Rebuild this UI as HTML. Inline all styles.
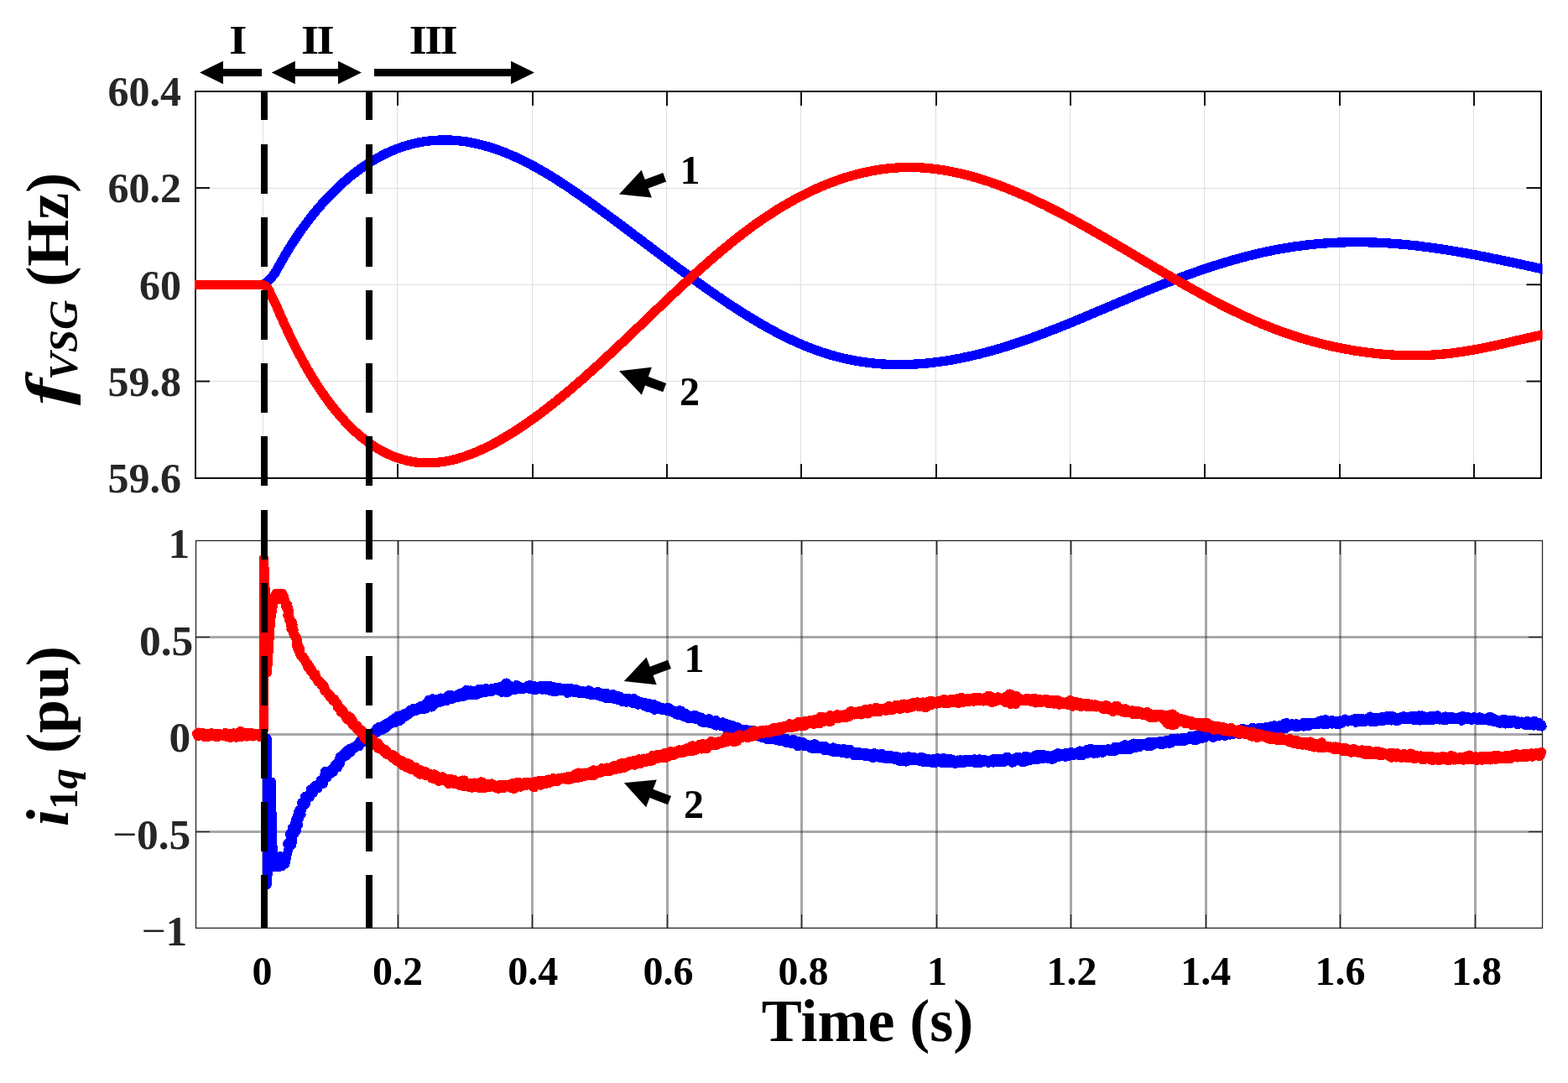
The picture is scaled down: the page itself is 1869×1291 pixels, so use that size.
<!DOCTYPE html>
<html lang="en"><head><meta charset="utf-8"><title>VSG frequency and current response</title>
<style>html,body{margin:0;padding:0;background:#fff;overflow:hidden}svg{display:block}</style></head>
<body>
<svg width="1869" height="1291" viewBox="0 0 1869 1291">
<rect x="0" y="0" width="1869" height="1291" fill="#ffffff" />
<defs><clipPath id="c1"><rect x="232" y="108" width="1606.6" height="463"/></clipPath></defs>
<g shape-rendering="crispEdges">
<rect x="313" y="110" width="1" height="459" fill="#dedede" />
<rect x="473" y="110" width="1" height="459" fill="#dedede" />
<rect x="634" y="110" width="1" height="459" fill="#dedede" />
<rect x="794" y="110" width="1" height="459" fill="#dedede" />
<rect x="954" y="110" width="1" height="459" fill="#dedede" />
<rect x="1115" y="110" width="1" height="459" fill="#dedede" />
<rect x="1275" y="110" width="1" height="459" fill="#dedede" />
<rect x="1435" y="110" width="1" height="459" fill="#dedede" />
<rect x="1596" y="110" width="1" height="459" fill="#dedede" />
<rect x="1756" y="110" width="1" height="459" fill="#dedede" />
<rect x="234" y="224" width="1602" height="1" fill="#dedede" />
<rect x="234" y="339" width="1602" height="1" fill="#dedede" />
<rect x="234" y="454" width="1602" height="1" fill="#dedede" />
</g>
<g shape-rendering="crispEdges">
<rect x="232" y="108" width="1606" height="2" fill="#0f0f0f" />
<rect x="232" y="569" width="1606" height="2" fill="#0f0f0f" />
<rect x="232" y="108" width="2" height="463" fill="#0f0f0f" />
<rect x="1836" y="108" width="2" height="463" fill="#0f0f0f" />
<rect x="313" y="110" width="2" height="16" fill="#0f0f0f" />
<rect x="313" y="553" width="2" height="16" fill="#0f0f0f" />
<rect x="473" y="110" width="2" height="16" fill="#0f0f0f" />
<rect x="473" y="553" width="2" height="16" fill="#0f0f0f" />
<rect x="634" y="110" width="2" height="16" fill="#0f0f0f" />
<rect x="634" y="553" width="2" height="16" fill="#0f0f0f" />
<rect x="794" y="110" width="2" height="16" fill="#0f0f0f" />
<rect x="794" y="553" width="2" height="16" fill="#0f0f0f" />
<rect x="954" y="110" width="2" height="16" fill="#0f0f0f" />
<rect x="954" y="553" width="2" height="16" fill="#0f0f0f" />
<rect x="1115" y="110" width="2" height="16" fill="#0f0f0f" />
<rect x="1115" y="553" width="2" height="16" fill="#0f0f0f" />
<rect x="1275" y="110" width="2" height="16" fill="#0f0f0f" />
<rect x="1275" y="553" width="2" height="16" fill="#0f0f0f" />
<rect x="1435" y="110" width="2" height="16" fill="#0f0f0f" />
<rect x="1435" y="553" width="2" height="16" fill="#0f0f0f" />
<rect x="1596" y="110" width="2" height="16" fill="#0f0f0f" />
<rect x="1596" y="553" width="2" height="16" fill="#0f0f0f" />
<rect x="1756" y="110" width="2" height="16" fill="#0f0f0f" />
<rect x="1756" y="553" width="2" height="16" fill="#0f0f0f" />
</g>
<rect x="234" y="223.05" width="16" height="2" fill="#0f0f0f" />
<rect x="1819.5" y="223.05" width="16.5" height="2" fill="#0f0f0f" />
<rect x="234" y="338.3" width="16" height="2" fill="#0f0f0f" />
<rect x="1819.5" y="338.3" width="16.5" height="2" fill="#0f0f0f" />
<rect x="234" y="453.55" width="16" height="2" fill="#0f0f0f" />
<rect x="1819.5" y="453.55" width="16.5" height="2" fill="#0f0f0f" />
<g clip-path="url(#c1)" fill="none" stroke-linejoin="round" shape-rendering="crispEdges">
<path d="M313.5,339.5 L318.0,336.5 L322.0,332.5 L327.1,326.6 L334.1,314.3 L337.9,307.6 L341.6,301.2 L345.4,295.0 L349.2,289.0 L353.0,283.3 L356.7,277.7 L360.5,272.3 L364.3,267.2 L368.1,262.2 L371.8,257.4 L375.6,252.7 L379.4,248.2 L383.2,243.8 L386.9,239.6 L390.7,235.5 L394.5,231.6 L398.3,227.8 L402.0,224.1 L405.8,220.6 L409.6,217.2 L413.4,213.9 L417.1,210.7 L420.9,207.7 L424.7,204.8 L428.5,202.0 L432.2,199.3 L436.0,196.7 L439.8,194.3 L443.6,191.9 L447.3,189.7 L451.1,187.6 L454.9,185.6 L458.6,183.7 L462.4,181.9 L466.2,180.2 L470.0,178.6 L473.7,177.1 L477.5,175.8 L481.3,174.5 L485.1,173.4 L488.8,172.3 L492.6,171.3 L496.4,170.5 L500.2,169.7 L503.9,169.0 L507.7,168.4 L511.5,168.0 L515.3,167.6 L519.0,167.3 L522.8,167.1 L526.6,167.0 L530.4,166.9 L534.1,167.0 L537.9,167.1 L541.7,167.4 L545.5,167.7 L549.2,168.1 L553.0,168.6 L556.8,169.1 L560.6,169.8 L564.3,170.5 L568.1,171.3 L571.9,172.2 L575.6,173.2 L579.4,174.2 L583.2,175.3 L587.0,176.5 L590.7,177.8 L594.5,179.1 L598.3,180.5 L602.1,181.9 L605.8,183.5 L609.6,185.1 L613.4,186.7 L617.2,188.5 L620.9,190.3 L624.7,192.1 L628.5,194.0 L632.3,196.0 L636.0,198.0 L639.8,200.1 L643.6,202.2 L647.4,204.4 L651.1,206.6 L654.9,208.9 L658.7,211.2 L662.5,213.6 L666.2,216.0 L670.0,218.4 L673.8,220.9 L677.6,223.4 L681.3,225.9 L685.1,228.5 L688.9,231.1 L692.6,233.7 L696.4,236.4 L700.2,239.0 L704.0,241.7 L707.7,244.4 L711.5,247.2 L715.3,249.9 L719.1,252.7 L722.8,255.4 L726.6,258.2 L730.4,261.0 L734.2,263.8 L737.9,266.6 L741.7,269.4 L745.5,272.3 L749.3,275.1 L753.0,277.9 L756.8,280.8 L760.6,283.6 L764.4,286.4 L768.1,289.3 L771.9,292.1 L775.7,295.0 L779.5,297.8 L783.2,300.7 L787.0,303.5 L790.8,306.3 L794.6,309.2 L798.3,312.0 L802.1,314.8 L805.9,317.6 L809.6,320.4 L813.4,323.2 L817.2,326.0 L821.0,328.7 L824.7,331.5 L828.5,334.2 L832.3,336.9 L836.1,339.6 L839.8,342.3 L843.6,345.0 L847.4,347.6 L851.2,350.3 L854.9,352.9 L858.7,355.4 L862.5,358.0 L866.3,360.5 L870.0,363.1 L873.8,365.5 L877.6,368.0 L881.4,370.4 L885.1,372.8 L888.9,375.2 L892.7,377.5 L896.5,379.8 L900.2,382.1 L904.0,384.3 L907.8,386.5 L911.6,388.6 L915.3,390.8 L919.1,392.8 L922.9,394.9 L926.6,396.9 L930.4,398.8 L934.2,400.7 L938.0,402.6 L941.7,404.4 L945.5,406.2 L949.3,407.9 L953.1,409.6 L956.8,411.2 L960.6,412.7 L964.4,414.3 L968.2,415.7 L971.9,417.1 L975.7,418.5 L979.5,419.8 L983.3,421.0 L987.0,422.2 L990.8,423.3 L994.6,424.4 L998.4,425.4 L1002.1,426.3 L1005.9,427.2 L1009.7,428.0 L1013.5,428.8 L1017.2,429.6 L1021.0,430.3 L1024.8,430.9 L1028.6,431.5 L1032.3,432.0 L1036.1,432.5 L1039.9,432.9 L1043.6,433.3 L1047.4,433.6 L1051.2,433.9 L1055.0,434.1 L1058.7,434.3 L1062.5,434.4 L1066.3,434.5 L1070.1,434.6 L1073.8,434.6 L1077.6,434.5 L1081.4,434.5 L1085.2,434.3 L1088.9,434.2 L1092.7,433.9 L1096.5,433.7 L1100.3,433.4 L1104.0,433.1 L1107.8,432.7 L1111.6,432.3 L1115.4,431.8 L1119.1,431.3 L1122.9,430.8 L1126.7,430.3 L1130.5,429.7 L1134.2,429.0 L1138.0,428.3 L1141.8,427.6 L1145.5,426.9 L1149.3,426.1 L1153.1,425.3 L1156.9,424.5 L1160.6,423.6 L1164.4,422.7 L1168.2,421.8 L1172.0,420.8 L1175.7,419.8 L1179.5,418.8 L1183.3,417.8 L1187.1,416.7 L1190.8,415.6 L1194.6,414.5 L1198.4,413.3 L1202.2,412.1 L1205.9,410.9 L1209.7,409.7 L1213.5,408.4 L1217.3,407.1 L1221.0,405.8 L1224.8,404.5 L1228.6,403.2 L1232.4,401.8 L1236.1,400.4 L1239.9,399.0 L1243.7,397.6 L1247.5,396.2 L1251.2,394.7 L1255.0,393.2 L1258.8,391.8 L1262.5,390.3 L1266.3,388.8 L1270.1,387.2 L1273.9,385.7 L1277.6,384.2 L1281.4,382.6 L1285.2,381.0 L1289.0,379.5 L1292.7,377.9 L1296.5,376.3 L1300.3,374.7 L1304.1,373.1 L1307.8,371.5 L1311.6,369.9 L1315.4,368.3 L1319.2,366.7 L1322.9,365.1 L1326.7,363.5 L1330.5,361.9 L1334.3,360.3 L1338.0,358.7 L1341.8,357.1 L1345.6,355.5 L1349.4,353.9 L1353.1,352.3 L1356.9,350.8 L1360.7,349.2 L1364.5,347.6 L1368.2,346.1 L1372.0,344.6 L1375.8,343.0 L1379.5,341.5 L1383.3,340.0 L1387.1,338.5 L1390.9,337.0 L1394.6,335.6 L1398.4,334.1 L1402.2,332.7 L1406.0,331.3 L1409.7,329.9 L1413.5,328.5 L1417.3,327.1 L1421.1,325.8 L1424.8,324.4 L1428.6,323.1 L1432.4,321.8 L1436.2,320.5 L1439.9,319.3 L1443.7,318.0 L1447.5,316.8 L1451.3,315.6 L1455.0,314.4 L1458.8,313.3 L1462.6,312.1 L1466.4,311.0 L1470.1,309.9 L1473.9,308.9 L1477.7,307.8 L1481.5,306.8 L1485.2,305.8 L1489.0,304.8 L1492.8,303.9 L1496.5,303.0 L1500.3,302.1 L1504.1,301.2 L1507.9,300.4 L1511.6,299.6 L1515.4,298.8 L1519.2,298.0 L1523.0,297.3 L1526.7,296.6 L1530.5,296.0 L1534.3,295.3 L1538.1,294.7 L1541.8,294.1 L1545.6,293.6 L1549.4,293.1 L1553.2,292.6 L1556.9,292.1 L1560.7,291.7 L1564.5,291.3 L1568.3,290.9 L1572.0,290.6 L1575.8,290.3 L1579.6,290.0 L1583.4,289.7 L1587.1,289.5 L1590.9,289.3 L1594.7,289.1 L1598.5,289.0 L1602.2,288.9 L1606.0,288.8 L1609.8,288.7 L1613.5,288.7 L1617.3,288.6 L1621.1,288.7 L1624.9,288.7 L1628.6,288.8 L1632.4,288.9 L1636.2,289.0 L1640.0,289.1 L1643.7,289.3 L1647.5,289.5 L1651.3,289.7 L1655.1,289.9 L1658.8,290.2 L1662.6,290.5 L1666.4,290.8 L1670.2,291.1 L1673.9,291.4 L1677.7,291.8 L1681.5,292.2 L1685.3,292.6 L1689.0,293.0 L1692.8,293.5 L1696.6,294.0 L1700.4,294.5 L1704.1,295.0 L1707.9,295.5 L1711.7,296.0 L1715.5,296.6 L1719.2,297.1 L1723.0,297.7 L1726.8,298.3 L1730.5,298.9 L1734.3,299.6 L1738.1,300.2 L1741.9,300.9 L1745.6,301.5 L1749.4,302.2 L1753.2,302.9 L1757.0,303.6 L1760.7,304.3 L1764.5,305.1 L1768.3,305.8 L1772.1,306.5 L1775.8,307.3 L1779.6,308.1 L1783.4,308.8 L1787.2,309.6 L1790.9,310.4 L1794.7,311.2 L1798.5,312.0 L1802.3,312.8 L1806.0,313.6 L1809.8,314.4 L1813.6,315.3 L1817.4,316.1 L1821.1,316.9 L1824.9,317.7 L1828.7,318.6 L1832.5,319.4 L1836.2,320.2 L1840.0,321.1" stroke="#0000ff" stroke-width="11.3"/>
<path d="M230.0,339.5 L313.5,339.5 L317.0,341.0 L320.5,346.0 L323.6,352.5 L329.8,365.4 L333.6,374.3 L337.4,382.8 L341.2,391.1 L344.9,399.1 L348.7,406.9 L352.5,414.5 L356.3,421.7 L360.1,428.8 L363.9,435.6 L367.6,442.2 L371.4,448.5 L375.2,454.6 L379.0,460.5 L382.8,466.2 L386.6,471.7 L390.4,476.9 L394.1,482.0 L397.9,486.8 L401.7,491.5 L405.5,495.9 L409.3,500.2 L413.1,504.3 L416.9,508.1 L420.6,511.8 L424.4,515.4 L428.2,518.7 L432.0,521.9 L435.8,524.9 L439.6,527.7 L443.3,530.4 L447.1,532.8 L450.9,535.2 L454.7,537.3 L458.5,539.3 L462.3,541.2 L466.1,542.9 L469.8,544.4 L473.6,545.8 L477.4,547.0 L481.2,548.1 L485.0,549.1 L488.8,549.9 L492.6,550.5 L496.3,551.1 L500.1,551.4 L503.9,551.7 L507.7,551.8 L511.5,551.8 L515.3,551.7 L519.0,551.5 L522.8,551.1 L526.6,550.7 L530.4,550.1 L534.2,549.4 L538.0,548.6 L541.8,547.7 L545.5,546.7 L549.3,545.5 L553.1,544.3 L556.9,543.0 L560.7,541.6 L564.5,540.2 L568.3,538.6 L572.0,536.9 L575.8,535.2 L579.6,533.4 L583.4,531.5 L587.2,529.5 L591.0,527.5 L594.7,525.4 L598.5,523.3 L602.3,521.0 L606.1,518.7 L609.9,516.4 L613.7,514.0 L617.5,511.6 L621.2,509.0 L625.0,506.5 L628.8,503.9 L632.6,501.2 L636.4,498.5 L640.2,495.8 L644.0,493.0 L647.7,490.1 L651.5,487.2 L655.3,484.3 L659.1,481.3 L662.9,478.3 L666.7,475.2 L670.4,472.1 L674.2,469.0 L678.0,465.8 L681.8,462.6 L685.6,459.4 L689.4,456.1 L693.2,452.8 L696.9,449.5 L700.7,446.1 L704.5,442.7 L708.3,439.3 L712.1,435.9 L715.9,432.4 L719.7,428.9 L723.4,425.4 L727.2,421.9 L731.0,418.4 L734.8,414.8 L738.6,411.2 L742.4,407.7 L746.1,404.1 L749.9,400.5 L753.7,396.9 L757.5,393.3 L761.3,389.7 L765.1,386.0 L768.9,382.4 L772.6,378.8 L776.4,375.2 L780.2,371.6 L784.0,368.0 L787.8,364.4 L791.6,360.8 L795.4,357.2 L799.1,353.6 L802.9,350.1 L806.7,346.5 L810.5,343.0 L814.3,339.5 L818.1,336.0 L821.8,332.5 L825.6,329.0 L829.4,325.6 L833.2,322.2 L837.0,318.8 L840.8,315.4 L844.6,312.1 L848.3,308.8 L852.1,305.6 L855.9,302.3 L859.7,299.1 L863.5,296.0 L867.3,292.9 L871.0,289.8 L874.8,286.7 L878.6,283.7 L882.4,280.8 L886.2,277.9 L890.0,275.0 L893.8,272.2 L897.5,269.4 L901.3,266.7 L905.1,264.1 L908.9,261.4 L912.7,258.9 L916.5,256.4 L920.3,253.9 L924.0,251.5 L927.8,249.1 L931.6,246.8 L935.4,244.6 L939.2,242.4 L943.0,240.2 L946.7,238.1 L950.5,236.1 L954.3,234.1 L958.1,232.1 L961.9,230.2 L965.7,228.4 L969.5,226.6 L973.2,224.9 L977.0,223.2 L980.8,221.6 L984.6,220.0 L988.4,218.5 L992.2,217.1 L996.0,215.7 L999.7,214.4 L1003.5,213.1 L1007.3,211.8 L1011.1,210.7 L1014.9,209.6 L1018.7,208.5 L1022.4,207.5 L1026.2,206.6 L1030.0,205.7 L1033.8,204.9 L1037.6,204.1 L1041.4,203.4 L1045.2,202.7 L1048.9,202.1 L1052.7,201.6 L1056.5,201.1 L1060.3,200.7 L1064.1,200.4 L1067.9,200.1 L1071.7,199.8 L1075.4,199.7 L1079.2,199.6 L1083.0,199.5 L1086.8,199.5 L1090.6,199.6 L1094.4,199.7 L1098.1,199.9 L1101.9,200.2 L1105.7,200.5 L1109.5,200.9 L1113.3,201.3 L1117.1,201.8 L1120.9,202.3 L1124.6,202.9 L1128.4,203.5 L1132.2,204.2 L1136.0,205.0 L1139.8,205.8 L1143.6,206.6 L1147.4,207.5 L1151.1,208.4 L1154.9,209.4 L1158.7,210.4 L1162.5,211.5 L1166.3,212.6 L1170.1,213.8 L1173.8,215.0 L1177.6,216.2 L1181.4,217.5 L1185.2,218.9 L1189.0,220.2 L1192.8,221.6 L1196.6,223.1 L1200.3,224.5 L1204.1,226.1 L1207.9,227.6 L1211.7,229.2 L1215.5,230.8 L1219.3,232.5 L1223.1,234.1 L1226.8,235.8 L1230.6,237.6 L1234.4,239.4 L1238.2,241.2 L1242.0,243.0 L1245.8,244.8 L1249.5,246.7 L1253.3,248.6 L1257.1,250.5 L1260.9,252.5 L1264.7,254.4 L1268.5,256.4 L1272.3,258.5 L1276.0,260.5 L1279.8,262.5 L1283.6,264.6 L1287.4,266.7 L1291.2,268.8 L1295.0,270.9 L1298.8,273.0 L1302.5,275.2 L1306.3,277.4 L1310.1,279.5 L1313.9,281.7 L1317.7,283.9 L1321.5,286.1 L1325.2,288.3 L1329.0,290.5 L1332.8,292.8 L1336.6,295.0 L1340.4,297.2 L1344.2,299.5 L1348.0,301.7 L1351.7,304.0 L1355.5,306.2 L1359.3,308.5 L1363.1,310.7 L1366.9,313.0 L1370.7,315.2 L1374.4,317.5 L1378.2,319.7 L1382.0,321.9 L1385.8,324.2 L1389.6,326.4 L1393.4,328.6 L1397.2,330.8 L1400.9,333.0 L1404.7,335.2 L1408.5,337.4 L1412.3,339.6 L1416.1,341.7 L1419.9,343.9 L1423.7,346.0 L1427.4,348.1 L1431.2,350.2 L1435.0,352.3 L1438.8,354.3 L1442.6,356.4 L1446.4,358.4 L1450.1,360.4 L1453.9,362.4 L1457.7,364.3 L1461.5,366.3 L1465.3,368.2 L1469.1,370.1 L1472.9,371.9 L1476.6,373.7 L1480.4,375.5 L1484.2,377.3 L1488.0,379.0 L1491.8,380.8 L1495.6,382.4 L1499.4,384.1 L1503.1,385.7 L1506.9,387.3 L1510.7,388.8 L1514.5,390.3 L1518.3,391.8 L1522.1,393.2 L1525.8,394.6 L1529.6,396.0 L1533.4,397.3 L1537.2,398.6 L1541.0,399.9 L1544.8,401.1 L1548.6,402.3 L1552.3,403.5 L1556.1,404.6 L1559.9,405.7 L1563.7,406.8 L1567.5,407.8 L1571.3,408.8 L1575.1,409.8 L1578.8,410.7 L1582.6,411.6 L1586.4,412.5 L1590.2,413.3 L1594.0,414.1 L1597.8,414.9 L1601.5,415.6 L1605.3,416.3 L1609.1,417.0 L1612.9,417.7 L1616.7,418.3 L1620.5,418.9 L1624.3,419.4 L1628.0,419.9 L1631.8,420.4 L1635.6,420.9 L1639.4,421.3 L1643.2,421.7 L1647.0,422.1 L1650.8,422.4 L1654.5,422.7 L1658.3,422.9 L1662.1,423.2 L1665.9,423.3 L1669.7,423.5 L1673.5,423.6 L1677.2,423.7 L1681.0,423.8 L1684.8,423.8 L1688.6,423.7 L1692.4,423.7 L1696.2,423.6 L1700.0,423.5 L1703.7,423.3 L1707.5,423.1 L1711.3,422.8 L1715.1,422.5 L1718.9,422.2 L1722.7,421.9 L1726.5,421.5 L1730.2,421.0 L1734.0,420.6 L1737.8,420.0 L1741.6,419.5 L1745.4,418.9 L1749.2,418.3 L1752.9,417.6 L1756.7,417.0 L1760.5,416.3 L1764.3,415.5 L1768.1,414.8 L1771.9,414.0 L1775.7,413.2 L1779.4,412.4 L1783.2,411.6 L1787.0,410.8 L1790.8,409.9 L1794.6,409.1 L1798.4,408.2 L1802.2,407.3 L1805.9,406.4 L1809.7,405.6 L1813.5,404.7 L1817.3,403.8 L1821.1,402.9 L1824.9,402.1 L1828.6,401.2 L1832.4,400.4 L1836.2,399.5 L1840.0,398.7" stroke="#ff0000" stroke-width="11.3"/>
</g>
<g shape-rendering="crispEdges" fill="#262626" fill-opacity="0.4">
<rect x="312" y="645" width="3" height="461"/>
<rect x="473" y="645" width="3" height="461"/>
<rect x="633" y="645" width="3" height="461"/>
<rect x="794" y="645" width="3" height="461"/>
<rect x="954" y="645" width="3" height="461"/>
<rect x="1115" y="645" width="3" height="461"/>
<rect x="1275" y="645" width="3" height="461"/>
<rect x="1436" y="645" width="3" height="461"/>
<rect x="1596" y="645" width="3" height="461"/>
<rect x="1757" y="645" width="3" height="461"/>
<rect x="234" y="758" width="1604" height="3"/>
<rect x="234" y="874" width="1604" height="3"/>
<rect x="234" y="990" width="1604" height="3"/>
</g>
<rect x="233.5" y="644.5" width="1605" height="461.8" fill="none" stroke="#262626" stroke-width="1.3"/>
<g stroke="#262626" stroke-width="1.2">
<line x1="313.5" y1="645" x2="313.5" y2="661"/>
<line x1="313.5" y1="1106" x2="313.5" y2="1090"/>
<line x1="474.5" y1="645" x2="474.5" y2="661"/>
<line x1="474.5" y1="1106" x2="474.5" y2="1090"/>
<line x1="634.5" y1="645" x2="634.5" y2="661"/>
<line x1="634.5" y1="1106" x2="634.5" y2="1090"/>
<line x1="795.5" y1="645" x2="795.5" y2="661"/>
<line x1="795.5" y1="1106" x2="795.5" y2="1090"/>
<line x1="955.5" y1="645" x2="955.5" y2="661"/>
<line x1="955.5" y1="1106" x2="955.5" y2="1090"/>
<line x1="1116.5" y1="645" x2="1116.5" y2="661"/>
<line x1="1116.5" y1="1106" x2="1116.5" y2="1090"/>
<line x1="1276.5" y1="645" x2="1276.5" y2="661"/>
<line x1="1276.5" y1="1106" x2="1276.5" y2="1090"/>
<line x1="1437.5" y1="645" x2="1437.5" y2="661"/>
<line x1="1437.5" y1="1106" x2="1437.5" y2="1090"/>
<line x1="1597.5" y1="645" x2="1597.5" y2="661"/>
<line x1="1597.5" y1="1106" x2="1597.5" y2="1090"/>
<line x1="1758.5" y1="645" x2="1758.5" y2="661"/>
<line x1="1758.5" y1="1106" x2="1758.5" y2="1090"/>
<line x1="234" y1="759.5" x2="250" y2="759.5"/>
<line x1="1838" y1="759.5" x2="1822" y2="759.5"/>
<line x1="234" y1="875.5" x2="250" y2="875.5"/>
<line x1="1838" y1="875.5" x2="1822" y2="875.5"/>
<line x1="234" y1="991.5" x2="250" y2="991.5"/>
<line x1="1838" y1="991.5" x2="1822" y2="991.5"/>
</g>
<path d="M318.2,880.0 L318.2,1055.0 L320.0,1030.0 L323.5,932.0 L324.5,1000.0 L326.0,1023.0 L328.0,1034.0 L330.0,1021.0 L332.0,1034.0 L334.0,1020.5 L336.0,1033.0 L338.0,1021.0 L340.0,1030.0 L342.0,1019.0 L344.5,1010.0 L345.6,1005.7 L347.9,1006.9 L342.4,1005.9 L348.8,1003.3 L346.1,1002.2 L345.0,1004.0 L345.3,1005.2 L345.1,1002.9 L346.9,1001.8 L349.0,1002.1 L348.9,994.0 L349.3,994.1 L345.5,995.0 L346.0,992.9 L351.8,992.4 L351.0,993.8 L353.5,989.9 L352.1,990.8 L348.4,986.3 L352.8,987.7 L351.9,991.8 L351.5,986.7 L349.9,987.7 L351.7,987.6 L351.7,984.0 L353.8,985.4 L352.8,983.6 L355.6,983.7 L351.8,979.8 L354.3,977.1 L354.6,977.1 L352.5,977.1 L352.2,978.6 L356.4,976.0 L355.8,974.6 L355.0,974.1 L356.3,976.0 L354.8,971.4 L356.8,975.1 L355.7,968.1 L357.4,968.6 L359.2,970.8 L357.3,969.2 L359.7,965.2 L356.8,965.9 L358.5,963.7 L356.9,966.2 L359.5,964.6 L360.2,960.9 L360.1,962.4 L360.3,959.8 L363.5,959.5 L364.1,958.9 L359.8,956.6 L364.4,957.8 L359.8,957.1 L362.1,956.2 L363.7,956.8 L364.7,953.0 L363.3,949.5 L364.4,950.9 L366.4,951.6 L365.7,950.4 L366.3,950.8 L369.2,950.5 L370.3,947.6 L369.1,946.8 L369.8,944.1 L370.3,947.7 L370.1,944.1 L370.6,941.5 L370.4,940.7 L374.1,941.5 L373.5,945.1 L374.1,942.7 L375.4,936.6 L376.7,939.3 L379.0,939.5 L376.7,939.6 L377.2,938.2 L378.9,935.4 L377.8,937.0 L382.3,934.1 L382.4,929.7 L382.7,932.4 L381.9,931.7 L384.2,934.6 L385.4,934.2 L385.1,928.8 L384.5,930.8 L382.7,929.9 L388.0,925.8 L386.5,923.8 L386.3,927.4 L390.1,927.2 L389.8,924.8 L387.4,919.5 L390.4,924.7 L390.8,922.7 L393.8,921.4 L389.4,921.9 L392.7,919.4 L393.9,922.4 L397.3,920.4 L393.5,918.4 L390.9,919.5 L394.3,918.0 L397.8,914.0 L399.4,916.3 L401.7,914.8 L400.0,911.2 L398.5,912.9 L402.1,914.5 L401.2,911.4 L401.5,915.1 L402.5,915.0 L405.4,909.8 L402.2,910.9 L405.2,902.1 L406.2,906.8 L407.2,900.7 L408.2,903.8 L409.2,898.6 L410.2,901.3 L411.2,896.7 L412.2,901.5 L413.2,895.4 L414.2,899.5 L415.2,893.4 L416.2,897.8 L417.2,892.2 L418.2,896.8 L419.2,891.6 L420.2,894.1 L421.2,890.4 L422.2,892.5 L423.2,889.4 L424.2,890.5 L425.2,887.9 L426.2,890.0 L427.2,886.0 L428.2,889.9 L429.2,883.0 L430.2,886.1 L431.2,881.8 L432.2,884.3 L433.2,879.7 L434.2,884.2 L435.2,878.0 L436.2,882.9 L437.2,877.2 L438.2,882.4 L439.2,875.9 L440.2,880.1 L441.2,874.4 L442.2,876.3 L443.2,874.7 L444.2,875.0 L445.2,873.3 L446.2,875.3 L447.2,870.6 L448.2,874.1 L449.2,868.2 L450.2,872.2 L451.2,866.7 L452.2,871.4 L453.2,866.4 L454.2,870.9 L455.2,865.6 L456.2,869.8 L457.2,864.9 L458.2,868.9 L459.2,863.1 L460.2,867.9 L461.2,861.8 L462.2,865.6 L463.2,860.9 L464.2,863.4 L465.2,859.5 L466.2,862.4 L467.2,858.2 L468.2,862.1 L469.2,856.6 L470.2,861.9 L471.2,855.4 L472.2,860.8 L473.2,853.5 L474.2,859.3 L475.2,853.6 L476.2,859.9 L477.2,852.8 L478.2,858.4 L479.2,852.3 L480.2,855.8 L481.2,850.9 L482.2,854.1 L483.2,850.0 L484.2,854.1 L485.2,850.4 L486.2,852.4 L487.2,847.6 L488.2,850.7 L489.2,846.1 L490.2,849.1 L491.2,846.6 L492.2,848.2 L493.2,844.0 L494.2,847.4 L495.2,844.3 L496.2,847.5 L497.2,843.8 L498.2,846.5 L499.2,843.1 L500.2,845.8 L501.2,841.7 L502.2,845.8 L503.2,841.9 L504.2,845.0 L505.2,840.6 L506.2,845.2 L507.2,839.3 L508.2,844.6 L509.2,837.1 L510.2,843.4 L511.2,834.2 L512.2,842.3 L513.2,836.4 L514.2,843.1 L515.2,832.8 L516.2,841.6 L517.2,833.1 L518.2,839.6 L519.2,834.8 L520.2,837.7 L521.2,834.6 L522.2,837.0 L523.2,833.0 L524.2,837.4 L525.2,832.0 L526.2,836.7 L527.2,832.4 L528.2,835.9 L529.2,833.6 L530.2,835.9 L531.2,831.9 L532.2,836.0 L533.2,829.9 L534.2,834.0 L535.2,828.3 L536.2,833.1 L537.2,828.4 L538.2,833.2 L539.2,829.7 L540.2,833.1 L541.2,829.7 L542.2,832.1 L543.2,828.8 L544.2,831.6 L545.2,827.8 L546.2,831.6 L547.2,828.2 L548.2,829.0 L549.2,826.0 L550.2,828.9 L551.2,825.5 L552.2,830.4 L553.2,825.1 L554.2,829.4 L555.2,822.6 L556.2,829.2 L557.2,822.7 L558.2,828.8 L559.2,823.7 L560.2,827.8 L561.2,822.9 L562.2,828.3 L563.2,823.1 L564.2,828.2 L565.2,824.1 L566.2,828.2 L567.2,823.5 L568.2,828.2 L569.2,822.3 L570.2,827.5 L571.2,821.2 L572.2,827.0 L573.2,821.3 L574.2,825.6 L575.2,821.8 L576.2,824.8 L577.2,821.4 L578.2,825.5 L579.2,820.7 L580.2,825.1 L581.2,820.9 L582.2,825.0 L583.2,821.0 L584.2,824.3 L585.2,820.9 L586.2,824.2 L587.2,820.4 L588.2,823.5 L589.2,820.7 L590.2,822.8 L591.2,819.4 L592.2,822.2 L593.2,819.9 L594.2,823.3 L595.2,819.4 L596.2,823.6 L597.2,818.0 L598.2,825.5 L599.2,817.5 L600.2,822.7 L601.2,816.0 L602.2,824.2 L603.2,813.9 L604.2,826.0 L605.2,815.1 L606.2,824.8 L607.2,816.8 L608.2,823.2 L609.2,817.8 L610.2,822.1 L611.2,818.3 L612.2,822.5 L613.2,818.3 L614.2,822.2 L615.2,816.5 L616.2,820.9 L617.2,817.2 L618.2,821.6 L619.2,817.9 L620.2,821.5 L621.2,818.9 L622.2,820.1 L623.2,819.3 L624.2,821.3 L625.2,819.5 L626.2,820.6 L627.2,819.5 L628.2,820.5 L629.2,817.2 L630.2,821.2 L631.2,816.4 L632.2,821.0 L633.2,818.3 L634.2,821.5 L635.2,818.5 L636.2,822.7 L637.2,817.7 L638.2,822.7 L639.2,818.1 L640.2,821.9 L641.2,819.3 L642.2,820.8 L643.2,818.5 L644.2,820.7 L645.2,817.0 L646.2,822.2 L647.2,817.1 L648.2,821.9 L649.2,817.1 L650.2,822.2 L651.2,817.4 L652.2,822.2 L653.2,817.1 L654.2,822.9 L655.2,817.4 L656.2,823.9 L657.2,818.0 L658.2,823.3 L659.2,818.1 L660.2,824.9 L661.2,818.9 L662.2,824.8 L663.2,819.6 L664.2,823.8 L665.2,819.6 L666.2,822.9 L667.2,819.5 L668.2,823.2 L669.2,820.5 L670.2,823.9 L671.2,821.6 L672.2,823.9 L673.2,820.4 L674.2,824.3 L675.2,820.0 L676.2,826.4 L677.2,820.3 L678.2,825.7 L679.2,820.2 L680.2,824.5 L681.2,820.7 L682.2,824.6 L683.2,821.9 L684.2,825.3 L685.2,821.1 L686.2,825.2 L687.2,821.7 L688.2,825.7 L689.2,822.4 L690.2,826.3 L691.2,823.0 L692.2,826.9 L693.2,823.2 L694.2,826.8 L695.2,823.8 L696.2,826.6 L697.2,824.4 L698.2,826.8 L699.2,824.2 L700.2,827.3 L701.2,822.8 L702.2,827.4 L703.2,823.3 L704.2,828.7 L705.2,825.0 L706.2,828.3 L707.2,826.5 L708.2,828.6 L709.2,825.6 L710.2,829.0 L711.2,824.9 L712.2,828.1 L713.2,824.7 L714.2,829.8 L715.2,825.9 L716.2,830.5 L717.2,827.1 L718.2,830.1 L719.2,826.6 L720.2,830.8 L721.2,827.2 L722.2,832.6 L723.2,826.1 L724.2,832.7 L725.2,829.1 L726.2,832.9 L727.2,829.3 L728.2,832.0 L729.2,827.9 L730.2,832.7 L731.2,827.5 L732.2,833.7 L733.2,829.1 L734.2,833.9 L735.2,829.3 L736.2,834.3 L737.2,829.6 L738.2,834.5 L739.2,830.3 L740.2,835.0 L741.2,831.7 L742.2,837.0 L743.2,833.3 L744.2,836.2 L745.2,833.8 L746.2,837.3 L747.2,832.3 L748.2,836.9 L749.2,832.3 L750.2,837.0 L751.2,834.2 L752.2,837.7 L753.2,834.8 L754.2,838.6 L755.2,832.3 L756.2,837.4 L757.2,833.9 L758.2,838.9 L759.2,836.8 L760.2,840.2 L761.2,835.6 L762.2,839.8 L763.2,836.2 L764.2,838.9 L765.2,837.6 L766.2,839.4 L767.2,837.4 L768.2,842.0 L769.2,837.5 L770.2,842.4 L771.2,838.0 L772.2,843.4 L773.2,838.2 L774.2,842.9 L775.2,839.3 L776.2,842.8 L777.2,839.0 L778.2,845.1 L779.2,839.4 L780.2,846.4 L781.2,841.1 L782.2,846.0 L783.2,841.5 L784.2,845.0 L785.2,842.0 L786.2,845.0 L787.2,843.0 L788.2,846.3 L789.2,843.0 L790.2,846.4 L791.2,844.1 L792.2,847.0 L793.2,844.0 L794.2,847.2 L795.2,843.6 L796.2,847.2 L797.2,843.7 L798.2,848.0 L799.2,845.2 L800.2,848.9 L801.2,846.1 L802.2,849.7 L803.2,847.0 L804.2,850.6 L805.2,847.0 L806.2,851.8 L807.2,847.3 L808.2,852.3 L809.2,846.8 L810.2,852.8 L811.2,846.9 L812.2,852.9 L813.2,849.0 L814.2,854.2 L815.2,849.6 L816.2,854.4 L817.2,850.4 L818.2,855.6 L819.2,852.0 L820.2,856.5 L821.2,852.6 L822.2,856.5 L823.2,853.1 L824.2,856.6 L825.2,853.2 L826.2,856.7 L827.2,852.5 L828.2,856.9 L829.2,852.6 L830.2,857.9 L831.2,854.1 L832.2,857.5 L833.2,855.4 L834.2,858.7 L835.2,854.9 L836.2,860.9 L837.2,856.0 L838.2,861.7 L839.2,857.3 L840.2,861.6 L841.2,857.4 L842.2,861.1 L843.2,857.9 L844.2,861.1 L845.2,856.7 L846.2,862.7 L847.2,858.1 L848.2,863.0 L849.2,859.2 L850.2,863.7 L851.2,859.0 L852.2,864.3 L853.2,858.5 L854.2,865.2 L855.2,860.3 L856.2,865.0 L857.2,862.1 L858.2,864.7 L859.2,861.3 L860.2,865.9 L861.2,860.8 L862.2,865.5 L863.2,863.6 L864.2,866.9 L865.2,863.3 L866.2,869.6 L867.2,862.9 L868.2,869.2 L869.2,864.2 L870.2,867.2 L871.2,864.2 L872.2,867.6 L873.2,864.4 L874.2,867.9 L875.2,866.1 L876.2,868.5 L877.2,866.6 L878.2,872.6 L879.2,866.8 L880.2,872.3 L881.2,868.4 L882.2,870.1 L883.2,869.4 L884.2,871.8 L885.2,869.1 L886.2,871.7 L887.2,869.1 L888.2,873.0 L889.2,869.8 L890.2,874.5 L891.2,869.9 L892.2,875.5 L893.2,870.3 L894.2,875.7 L895.2,871.3 L896.2,875.1 L897.2,870.9 L898.2,877.3 L899.2,872.6 L900.2,877.4 L901.2,873.9 L902.2,877.3 L903.2,873.4 L904.2,877.9 L905.2,873.4 L906.2,879.1 L907.2,873.2 L908.2,879.5 L909.2,873.9 L910.2,878.7 L911.2,874.9 L912.2,880.6 L913.2,875.2 L914.2,881.7 L915.2,875.9 L916.2,881.0 L917.2,876.8 L918.2,881.2 L919.2,877.5 L920.2,881.2 L921.2,876.0 L922.2,881.3 L923.2,877.5 L924.2,882.1 L925.2,879.7 L926.2,882.8 L927.2,879.1 L928.2,883.1 L929.2,878.7 L930.2,884.0 L931.2,879.9 L932.2,882.6 L933.2,881.3 L934.2,883.3 L935.2,880.6 L936.2,885.2 L937.2,880.2 L938.2,885.2 L939.2,881.9 L940.2,885.7 L941.2,882.9 L942.2,886.0 L943.2,882.6 L944.2,886.8 L945.2,881.3 L946.2,886.7 L947.2,882.4 L948.2,887.3 L949.2,883.2 L950.2,889.4 L951.2,883.3 L952.2,889.4 L953.2,884.3 L954.2,888.5 L955.2,884.8 L956.2,889.0 L957.2,884.5 L958.2,889.4 L959.2,886.0 L960.2,889.3 L961.2,887.2 L962.2,889.6 L963.2,887.8 L964.2,889.4 L965.2,888.5 L966.2,891.8 L967.2,888.3 L968.2,892.5 L969.2,887.2 L970.2,892.7 L971.2,886.7 L972.2,892.5 L973.2,888.2 L974.2,892.2 L975.2,889.6 L976.2,892.6 L977.2,889.4 L978.2,892.7 L979.2,889.1 L980.2,893.2 L981.2,890.0 L982.2,894.4 L983.2,889.4 L984.2,894.9 L985.2,890.8 L986.2,892.9 L987.2,892.0 L988.2,893.3 L989.2,892.8 L990.2,895.5 L991.2,893.2 L992.2,896.0 L993.2,890.9 L994.2,896.8 L995.2,891.7 L996.2,896.1 L997.2,892.0 L998.2,896.1 L999.2,892.1 L1000.2,896.7 L1001.2,893.2 L1002.2,897.2 L1003.2,893.1 L1004.2,897.4 L1005.2,892.4 L1006.2,897.1 L1007.2,893.2 L1008.2,898.2 L1009.2,893.6 L1010.2,898.2 L1011.2,893.6 L1012.2,897.8 L1013.2,893.3 L1014.2,898.2 L1015.2,894.9 L1016.2,899.2 L1017.2,896.7 L1018.2,900.9 L1019.2,896.3 L1020.2,900.0 L1021.2,897.1 L1022.2,900.3 L1023.2,896.9 L1024.2,900.5 L1025.2,896.9 L1026.2,900.3 L1027.2,897.0 L1028.2,901.0 L1029.2,897.6 L1030.2,901.1 L1031.2,897.6 L1032.2,901.5 L1033.2,897.5 L1034.2,901.5 L1035.2,898.1 L1036.2,900.9 L1037.2,898.3 L1038.2,901.7 L1039.2,898.9 L1040.2,903.6 L1041.2,897.8 L1042.2,902.6 L1043.2,897.9 L1044.2,902.2 L1045.2,899.5 L1046.2,902.6 L1047.2,901.1 L1048.2,902.6 L1049.2,899.4 L1050.2,903.9 L1051.2,898.2 L1052.2,904.1 L1053.2,901.1 L1054.2,903.9 L1055.2,902.0 L1056.2,904.7 L1057.2,900.8 L1058.2,904.4 L1059.2,901.2 L1060.2,904.3 L1061.2,900.3 L1062.2,904.1 L1063.2,901.2 L1064.2,904.4 L1065.2,901.8 L1066.2,905.4 L1067.2,901.8 L1068.2,905.5 L1069.2,901.7 L1070.2,906.7 L1071.2,902.4 L1072.2,907.6 L1073.2,903.3 L1074.2,907.6 L1075.2,903.3 L1076.2,906.4 L1077.2,902.5 L1078.2,906.8 L1079.2,902.3 L1080.2,908.2 L1081.2,902.5 L1082.2,907.5 L1083.2,901.7 L1084.2,906.6 L1085.2,903.5 L1086.2,906.8 L1087.2,903.6 L1088.2,907.0 L1089.2,902.5 L1090.2,906.9 L1091.2,902.9 L1092.2,906.2 L1093.2,903.0 L1094.2,906.7 L1095.2,903.0 L1096.2,907.6 L1097.2,902.7 L1098.2,908.0 L1099.2,902.5 L1100.2,908.6 L1101.2,903.1 L1102.2,907.5 L1103.2,904.4 L1104.2,908.3 L1105.2,904.8 L1106.2,908.9 L1107.2,904.7 L1108.2,908.6 L1109.2,905.3 L1110.2,909.0 L1111.2,904.9 L1112.2,909.9 L1113.2,904.6 L1114.2,909.8 L1115.2,904.0 L1116.2,908.8 L1117.2,903.4 L1118.2,908.9 L1119.2,904.8 L1120.2,908.6 L1121.2,904.9 L1122.2,909.3 L1123.2,903.9 L1124.2,910.0 L1125.2,903.8 L1126.2,909.9 L1127.2,904.4 L1128.2,909.3 L1129.2,904.9 L1130.2,908.9 L1131.2,904.7 L1132.2,909.9 L1133.2,904.7 L1134.2,910.0 L1135.2,906.0 L1136.2,909.1 L1137.2,905.9 L1138.2,910.7 L1139.2,906.2 L1140.2,908.9 L1141.2,906.0 L1142.2,908.1 L1143.2,906.3 L1144.2,909.3 L1145.2,905.4 L1146.2,909.7 L1147.2,906.0 L1148.2,909.7 L1149.2,905.8 L1150.2,908.8 L1151.2,905.0 L1152.2,908.6 L1153.2,905.6 L1154.2,908.9 L1155.2,906.0 L1156.2,908.7 L1157.2,905.7 L1158.2,908.8 L1159.2,905.2 L1160.2,908.8 L1161.2,904.8 L1162.2,909.6 L1163.2,906.3 L1164.2,909.3 L1165.2,905.6 L1166.2,909.3 L1167.2,904.8 L1168.2,909.1 L1169.2,905.7 L1170.2,909.1 L1171.2,905.3 L1172.2,908.2 L1173.2,905.1 L1174.2,907.3 L1175.2,906.7 L1176.2,907.2 L1177.2,906.6 L1178.2,909.4 L1179.2,906.4 L1180.2,908.9 L1181.2,905.8 L1182.2,909.0 L1183.2,904.9 L1184.2,909.1 L1185.2,904.8 L1186.2,908.7 L1187.2,904.3 L1188.2,908.3 L1189.2,906.0 L1190.2,908.2 L1191.2,904.7 L1192.2,907.9 L1193.2,904.7 L1194.2,908.4 L1195.2,904.4 L1196.2,909.0 L1197.2,905.1 L1198.2,908.1 L1199.2,902.6 L1200.2,906.2 L1201.2,902.3 L1202.2,906.6 L1203.2,904.3 L1204.2,907.1 L1205.2,905.1 L1206.2,909.2 L1207.2,905.2 L1208.2,908.7 L1209.2,903.8 L1210.2,906.8 L1211.2,902.8 L1212.2,907.0 L1213.2,903.3 L1214.2,906.8 L1215.2,902.6 L1216.2,906.5 L1217.2,904.2 L1218.2,908.6 L1219.2,903.4 L1220.2,909.0 L1221.2,901.5 L1222.2,907.2 L1223.2,901.8 L1224.2,907.3 L1225.2,902.0 L1226.2,906.5 L1227.2,902.3 L1228.2,906.3 L1229.2,902.8 L1230.2,905.6 L1231.2,901.9 L1232.2,905.5 L1233.2,900.6 L1234.2,905.3 L1235.2,899.8 L1236.2,905.9 L1237.2,899.4 L1238.2,905.1 L1239.2,899.6 L1240.2,903.5 L1241.2,899.9 L1242.2,903.8 L1243.2,899.2 L1244.2,904.4 L1245.2,900.2 L1246.2,903.0 L1247.2,900.6 L1248.2,903.4 L1249.2,900.8 L1250.2,904.8 L1251.2,901.7 L1252.2,904.2 L1253.2,901.3 L1254.2,905.5 L1255.2,900.1 L1256.2,904.7 L1257.2,899.8 L1258.2,903.4 L1259.2,898.3 L1260.2,902.8 L1261.2,897.7 L1262.2,902.5 L1263.2,898.4 L1264.2,901.3 L1265.2,898.2 L1266.2,901.6 L1267.2,898.2 L1268.2,901.1 L1269.2,897.8 L1270.2,902.4 L1271.2,897.1 L1272.2,901.8 L1273.2,897.4 L1274.2,901.4 L1275.2,896.8 L1276.2,900.4 L1277.2,896.6 L1278.2,900.9 L1279.2,897.6 L1280.2,900.6 L1281.2,897.8 L1282.2,899.9 L1283.2,897.8 L1284.2,900.0 L1285.2,896.3 L1286.2,900.3 L1287.2,894.9 L1288.2,901.0 L1289.2,895.6 L1290.2,900.8 L1291.2,897.2 L1292.2,898.1 L1293.2,895.2 L1294.2,897.9 L1295.2,893.7 L1296.2,898.5 L1297.2,893.0 L1298.2,897.3 L1299.2,892.7 L1300.2,896.7 L1301.2,892.8 L1302.2,897.8 L1303.2,894.2 L1304.2,898.3 L1305.2,894.5 L1306.2,897.8 L1307.2,893.5 L1308.2,898.1 L1309.2,893.3 L1310.2,895.5 L1311.2,893.1 L1312.2,896.1 L1313.2,893.3 L1314.2,897.4 L1315.2,893.3 L1316.2,896.1 L1317.2,893.2 L1318.2,894.6 L1319.2,893.7 L1320.2,894.9 L1321.2,892.5 L1322.2,895.7 L1323.2,893.1 L1324.2,895.3 L1325.2,892.9 L1326.2,894.9 L1327.2,891.8 L1328.2,895.6 L1329.2,890.2 L1330.2,894.4 L1331.2,890.0 L1332.2,894.1 L1333.2,890.8 L1334.2,893.5 L1335.2,890.4 L1336.2,893.3 L1337.2,889.5 L1338.2,893.2 L1339.2,888.4 L1340.2,894.0 L1341.2,887.6 L1342.2,894.0 L1343.2,888.4 L1344.2,893.2 L1345.2,888.9 L1346.2,893.6 L1347.2,888.3 L1348.2,892.0 L1349.2,887.1 L1350.2,892.1 L1351.2,886.0 L1352.2,891.8 L1353.2,886.6 L1354.2,891.3 L1355.2,886.4 L1356.2,891.0 L1357.2,886.1 L1358.2,890.8 L1359.2,886.2 L1360.2,889.6 L1361.2,886.0 L1362.2,888.9 L1363.2,886.8 L1364.2,888.1 L1365.2,887.2 L1366.2,888.6 L1367.2,886.2 L1368.2,890.0 L1369.2,884.4 L1370.2,889.6 L1371.2,884.2 L1372.2,889.3 L1373.2,884.8 L1374.2,887.2 L1375.2,884.9 L1376.2,887.3 L1377.2,884.1 L1378.2,886.5 L1379.2,885.3 L1380.2,886.8 L1381.2,884.7 L1382.2,887.1 L1383.2,883.0 L1384.2,887.6 L1385.2,884.5 L1386.2,887.3 L1387.2,884.2 L1388.2,886.7 L1389.2,882.8 L1390.2,884.8 L1391.2,882.8 L1392.2,885.7 L1393.2,882.8 L1394.2,886.4 L1395.2,881.3 L1396.2,885.6 L1397.2,880.1 L1398.2,884.3 L1399.2,881.2 L1400.2,883.0 L1401.2,881.0 L1402.2,882.7 L1403.2,880.0 L1404.2,883.5 L1405.2,880.2 L1406.2,882.6 L1407.2,881.4 L1408.2,883.3 L1409.2,879.6 L1410.2,883.6 L1411.2,879.6 L1412.2,883.4 L1413.2,880.3 L1414.2,882.4 L1415.2,879.9 L1416.2,881.4 L1417.2,878.4 L1418.2,880.9 L1419.2,877.3 L1420.2,881.5 L1421.2,877.2 L1422.2,881.9 L1423.2,878.2 L1424.2,882.8 L1425.2,876.6 L1426.2,882.4 L1427.2,876.7 L1428.2,880.4 L1429.2,876.8 L1430.2,880.3 L1431.2,874.7 L1432.2,880.2 L1433.2,876.3 L1434.2,880.1 L1435.2,877.2 L1436.2,879.6 L1437.2,875.7 L1438.2,878.4 L1439.2,875.9 L1440.2,877.4 L1441.2,875.3 L1442.2,877.1 L1443.2,874.9 L1444.2,878.4 L1445.2,874.3 L1446.2,879.3 L1447.2,874.4 L1448.2,878.5 L1449.2,874.5 L1450.2,877.4 L1451.2,874.8 L1452.2,877.9 L1453.2,873.5 L1454.2,877.1 L1455.2,873.1 L1456.2,876.8 L1457.2,873.1 L1458.2,876.8 L1459.2,873.5 L1460.2,877.3 L1461.2,873.0 L1462.2,875.9 L1463.2,872.5 L1464.2,875.8 L1465.2,871.3 L1466.2,876.1 L1467.2,870.5 L1468.2,875.8 L1469.2,869.7 L1470.2,875.2 L1471.2,870.5 L1472.2,873.7 L1473.2,871.4 L1474.2,874.1 L1475.2,870.4 L1476.2,875.1 L1477.2,870.4 L1478.2,873.9 L1479.2,869.7 L1480.2,873.4 L1481.2,868.2 L1482.2,874.2 L1483.2,869.0 L1484.2,873.9 L1485.2,869.7 L1486.2,872.9 L1487.2,870.0 L1488.2,873.6 L1489.2,869.4 L1490.2,873.9 L1491.2,868.3 L1492.2,872.4 L1493.2,867.2 L1494.2,871.5 L1495.2,868.6 L1496.2,870.2 L1497.2,868.6 L1498.2,870.8 L1499.2,867.8 L1500.2,871.3 L1501.2,867.1 L1502.2,872.1 L1503.2,867.8 L1504.2,872.1 L1505.2,867.8 L1506.2,870.7 L1507.2,867.4 L1508.2,870.0 L1509.2,866.6 L1510.2,869.2 L1511.2,867.0 L1512.2,870.0 L1513.2,866.1 L1514.2,870.0 L1515.2,865.5 L1516.2,868.4 L1517.2,865.7 L1518.2,868.7 L1519.2,864.7 L1520.2,869.6 L1521.2,865.3 L1522.2,869.3 L1523.2,865.3 L1524.2,868.7 L1525.2,864.6 L1526.2,868.5 L1527.2,866.1 L1528.2,868.6 L1529.2,864.0 L1530.2,867.3 L1531.2,862.0 L1532.2,868.6 L1533.2,861.4 L1534.2,867.3 L1535.2,862.9 L1536.2,865.6 L1537.2,863.3 L1538.2,865.8 L1539.2,862.9 L1540.2,865.7 L1541.2,862.9 L1542.2,865.1 L1543.2,863.1 L1544.2,866.4 L1545.2,862.7 L1546.2,866.7 L1547.2,863.1 L1548.2,865.7 L1549.2,863.8 L1550.2,865.5 L1551.2,862.8 L1552.2,865.7 L1553.2,861.7 L1554.2,866.1 L1555.2,861.2 L1556.2,864.9 L1557.2,861.3 L1558.2,865.1 L1559.2,862.0 L1560.2,865.5 L1561.2,861.7 L1562.2,864.6 L1563.2,861.0 L1564.2,863.8 L1565.2,861.1 L1566.2,863.8 L1567.2,861.7 L1568.2,863.7 L1569.2,861.4 L1570.2,864.0 L1571.2,859.9 L1572.2,863.5 L1573.2,859.2 L1574.2,862.5 L1575.2,858.5 L1576.2,861.9 L1577.2,858.5 L1578.2,863.8 L1579.2,857.8 L1580.2,864.0 L1581.2,858.0 L1582.2,863.7 L1583.2,860.6 L1584.2,862.6 L1585.2,860.1 L1586.2,862.9 L1587.2,858.4 L1588.2,863.1 L1589.2,859.0 L1590.2,863.0 L1591.2,859.0 L1592.2,861.8 L1593.2,859.1 L1594.2,863.8 L1595.2,859.0 L1596.2,863.2 L1597.2,858.9 L1598.2,862.6 L1599.2,859.2 L1600.2,862.1 L1601.2,858.6 L1602.2,860.0 L1603.2,857.0 L1604.2,859.6 L1605.2,858.0 L1606.2,860.2 L1607.2,858.8 L1608.2,859.3 L1609.2,858.5 L1610.2,859.1 L1611.2,857.9 L1612.2,859.9 L1613.2,857.7 L1614.2,860.0 L1615.2,856.5 L1616.2,861.3 L1617.2,856.4 L1618.2,860.7 L1619.2,856.4 L1620.2,860.8 L1621.2,856.1 L1622.2,859.8 L1623.2,856.6 L1624.2,859.9 L1625.2,857.0 L1626.2,860.9 L1627.2,857.2 L1628.2,859.8 L1629.2,856.4 L1630.2,859.6 L1631.2,856.4 L1632.2,860.0 L1633.2,854.0 L1634.2,860.6 L1635.2,854.9 L1636.2,859.2 L1637.2,855.0 L1638.2,860.2 L1639.2,855.3 L1640.2,860.3 L1641.2,855.3 L1642.2,858.8 L1643.2,855.7 L1644.2,859.4 L1645.2,855.3 L1646.2,860.0 L1647.2,854.4 L1648.2,859.9 L1649.2,854.6 L1650.2,858.5 L1651.2,855.2 L1652.2,858.8 L1653.2,853.3 L1654.2,858.3 L1655.2,853.7 L1656.2,858.9 L1657.2,853.4 L1658.2,859.1 L1659.2,853.5 L1660.2,858.8 L1661.2,854.5 L1662.2,858.6 L1663.2,854.9 L1664.2,859.6 L1665.2,855.1 L1666.2,859.6 L1667.2,855.9 L1668.2,857.7 L1669.2,854.8 L1670.2,858.0 L1671.2,854.2 L1672.2,857.9 L1673.2,853.5 L1674.2,857.8 L1675.2,854.2 L1676.2,857.3 L1677.2,855.0 L1678.2,857.4 L1679.2,855.4 L1680.2,857.8 L1681.2,853.8 L1682.2,857.8 L1683.2,853.1 L1684.2,857.6 L1685.2,853.1 L1686.2,858.8 L1687.2,853.1 L1688.2,858.7 L1689.2,854.0 L1690.2,858.7 L1691.2,852.8 L1692.2,859.1 L1693.2,853.3 L1694.2,858.5 L1695.2,852.9 L1696.2,858.6 L1697.2,854.6 L1698.2,858.3 L1699.2,855.4 L1700.2,858.3 L1701.2,854.1 L1702.2,858.3 L1703.2,854.8 L1704.2,857.4 L1705.2,853.5 L1706.2,858.5 L1707.2,853.1 L1708.2,858.5 L1709.2,854.3 L1710.2,857.7 L1711.2,853.8 L1712.2,856.7 L1713.2,852.8 L1714.2,857.4 L1715.2,853.8 L1716.2,858.1 L1717.2,855.4 L1718.2,858.0 L1719.2,855.1 L1720.2,858.4 L1721.2,854.3 L1722.2,858.5 L1723.2,853.9 L1724.2,858.5 L1725.2,855.0 L1726.2,857.9 L1727.2,854.4 L1728.2,856.9 L1729.2,854.2 L1730.2,856.5 L1731.2,854.7 L1732.2,857.9 L1733.2,855.4 L1734.2,857.8 L1735.2,855.5 L1736.2,857.4 L1737.2,855.2 L1738.2,857.7 L1739.2,855.0 L1740.2,858.2 L1741.2,854.2 L1742.2,859.4 L1743.2,853.5 L1744.2,857.8 L1745.2,855.7 L1746.2,857.2 L1747.2,855.3 L1748.2,857.7 L1749.2,854.0 L1750.2,856.9 L1751.2,855.2 L1752.2,857.1 L1753.2,856.3 L1754.2,858.5 L1755.2,855.5 L1756.2,857.8 L1757.2,854.5 L1758.2,857.6 L1759.2,855.2 L1760.2,858.2 L1761.2,855.3 L1762.2,858.3 L1763.2,854.8 L1764.2,858.6 L1765.2,855.6 L1766.2,858.7 L1767.2,856.0 L1768.2,857.9 L1769.2,856.9 L1770.2,858.2 L1771.2,856.5 L1772.2,858.9 L1773.2,855.6 L1774.2,859.1 L1775.2,854.6 L1776.2,859.5 L1777.2,854.8 L1778.2,859.9 L1779.2,856.3 L1780.2,860.4 L1781.2,856.5 L1782.2,860.2 L1783.2,858.3 L1784.2,860.8 L1785.2,858.6 L1786.2,861.8 L1787.2,858.4 L1788.2,862.3 L1789.2,858.0 L1790.2,861.8 L1791.2,857.5 L1792.2,861.4 L1793.2,857.2 L1794.2,863.1 L1795.2,858.0 L1796.2,862.7 L1797.2,858.2 L1798.2,862.3 L1799.2,858.5 L1800.2,862.1 L1801.2,859.4 L1802.2,862.1 L1803.2,858.7 L1804.2,861.5 L1805.2,858.5 L1806.2,862.1 L1807.2,859.3 L1808.2,863.4 L1809.2,859.6 L1810.2,863.5 L1811.2,860.0 L1812.2,862.8 L1813.2,860.0 L1814.2,861.8 L1815.2,861.4 L1816.2,862.1 L1817.2,861.3 L1818.2,864.6 L1819.2,859.9 L1820.2,864.2 L1821.2,859.5 L1822.2,864.5 L1823.2,860.2 L1824.2,863.7 L1825.2,861.6 L1826.2,864.6 L1827.2,859.9 L1828.2,865.1 L1829.2,859.4 L1830.2,864.9 L1831.2,861.0 L1832.2,864.8 L1833.2,862.2 L1834.2,865.7 L1835.2,861.8 L1836.2,865.5 L1837.2,863.5 L1838.2,866.1" fill="none" stroke="#0000ff" stroke-width="11.0" stroke-linejoin="round" stroke-linecap="round" shape-rendering="crispEdges"/>
<path d="M234.5,874.2 L235.5,877.3 L236.5,873.0 L237.5,877.3 L238.5,873.5 L239.5,876.9 L240.5,874.1 L241.5,877.4 L242.5,873.9 L243.5,878.6 L244.5,875.2 L245.5,878.5 L246.5,875.0 L247.5,878.2 L248.5,874.3 L249.5,878.1 L250.5,873.9 L251.5,877.7 L252.5,873.7 L253.5,876.7 L254.5,874.6 L255.5,877.7 L256.5,875.0 L257.5,878.6 L258.5,874.8 L259.5,878.6 L260.5,874.3 L261.5,877.4 L262.5,874.9 L263.5,876.6 L264.5,875.4 L265.5,877.3 L266.5,874.8 L267.5,877.8 L268.5,873.5 L269.5,878.4 L270.5,874.5 L271.5,878.8 L272.5,874.6 L273.5,879.3 L274.5,874.9 L275.5,879.2 L276.5,874.8 L277.5,877.9 L278.5,873.8 L279.5,877.7 L280.5,874.3 L281.5,879.2 L282.5,874.5 L283.5,878.2 L284.5,872.7 L285.5,878.6 L286.5,871.5 L287.5,878.6 L288.5,872.4 L289.5,877.4 L290.5,873.5 L291.5,876.7 L292.5,873.3 L293.5,878.1 L294.5,873.6 L295.5,877.3 L296.5,873.6 L297.5,877.0 L298.5,873.8 L299.5,878.0 L300.5,873.9 L301.5,878.1 L302.5,874.4 L303.5,876.7 L304.5,875.4 L305.5,876.7 L306.5,874.3 L307.5,877.4 L308.5,874.8 L309.5,878.7 L310.5,874.9 L314.6,870.0 L314.6,665.5 L316.0,700.0 L318.5,802.0 L322.5,740.0 L327.0,712.0 L329.0,707.0 L331.0,715.0 L333.0,707.5 L335.0,714.5 L337.0,707.5 L339.0,713.0 L339.9,718.0 L340.2,719.2 L340.3,717.9 L341.0,721.1 L342.9,721.2 L340.6,723.1 L342.8,724.0 L343.3,723.4 L342.1,724.9 L342.0,725.6 L343.2,727.2 L343.9,729.5 L344.9,728.9 L344.0,729.1 L344.8,733.3 L343.3,730.8 L343.2,732.7 L342.7,733.7 L343.5,733.4 L344.4,736.4 L345.1,737.7 L344.1,737.5 L346.1,738.6 L345.7,739.3 L345.5,738.7 L345.7,741.6 L348.2,741.1 L347.0,742.4 L346.4,744.7 L346.6,746.2 L349.1,745.3 L347.5,748.3 L349.2,749.9 L349.6,749.3 L346.9,750.0 L350.1,751.2 L349.1,751.6 L348.7,752.1 L349.4,754.6 L350.6,755.6 L350.7,755.3 L351.0,756.4 L350.4,757.1 L352.2,758.0 L352.7,758.7 L353.3,759.1 L353.0,762.5 L354.0,762.2 L354.5,763.5 L353.7,766.2 L354.1,764.9 L354.2,766.9 L354.5,765.9 L355.1,767.6 L353.3,769.8 L354.8,769.8 L355.7,769.6 L354.0,770.5 L354.8,773.3 L357.6,773.0 L355.8,775.5 L356.6,776.0 L357.6,776.4 L357.2,777.6 L357.2,779.4 L357.8,779.6 L358.2,779.6 L358.5,781.7 L359.7,781.9 L361.4,782.8 L361.0,784.4 L362.6,785.0 L362.5,786.5 L363.1,786.1 L363.5,786.6 L363.4,787.6 L364.6,789.1 L365.0,788.7 L364.5,790.0 L366.6,790.3 L367.0,791.2 L367.4,792.6 L367.3,796.0 L366.2,794.0 L370.0,795.5 L369.3,796.2 L368.2,796.8 L371.0,797.8 L370.5,800.5 L372.1,799.2 L372.1,801.8 L373.6,801.7 L373.4,801.1 L374.0,802.1 L374.5,803.2 L375.9,803.4 L374.4,806.4 L376.9,806.5 L377.1,807.5 L376.6,806.8 L377.6,809.1 L377.8,808.9 L378.8,812.7 L380.0,811.0 L379.3,812.2 L381.1,813.1 L381.8,813.1 L382.2,813.9 L383.5,814.7 L382.8,816.8 L384.0,816.0 L386.1,817.4 L384.7,818.6 L385.2,818.7 L385.9,818.6 L387.0,819.6 L386.6,821.1 L387.5,821.4 L386.9,824.1 L388.1,823.9 L388.7,824.7 L389.2,824.5 L390.4,826.8 L391.9,826.7 L391.7,826.9 L391.6,827.9 L393.5,831.6 L394.1,829.5 L393.5,830.0 L395.4,832.7 L395.1,833.1 L396.1,832.8 L396.7,835.2 L398.6,833.2 L397.9,834.9 L399.0,834.5 L400.0,838.2 L401.5,837.6 L402.5,843.7 L403.5,841.1 L404.5,845.5 L405.5,843.5 L406.5,849.4 L407.5,845.9 L408.5,850.5 L409.5,847.9 L410.5,852.2 L411.5,851.6 L412.5,856.0 L413.5,852.6 L414.5,858.4 L415.5,853.5 L416.5,858.8 L417.5,854.7 L418.5,861.4 L419.5,857.4 L420.5,864.6 L421.5,860.8 L422.5,865.7 L423.5,863.5 L424.5,867.9 L425.5,864.7 L426.5,870.5 L427.5,867.7 L428.5,872.1 L429.5,869.2 L430.5,874.0 L431.5,870.4 L432.5,876.6 L433.5,873.6 L434.5,880.5 L435.5,875.9 L436.5,881.7 L437.5,877.1 L438.5,882.2 L439.5,877.7 L440.5,883.9 L441.5,879.9 L442.5,886.2 L443.5,881.0 L444.5,888.7 L445.5,882.4 L446.5,888.6 L447.5,884.2 L448.5,889.8 L449.5,885.3 L450.5,892.3 L451.5,886.8 L452.5,892.2 L453.5,889.4 L454.5,893.2 L455.5,891.6 L456.5,895.8 L457.5,893.1 L458.5,897.8 L459.5,893.5 L460.5,899.2 L461.5,896.0 L462.5,898.7 L463.5,898.8 L464.5,900.5 L465.5,899.7 L466.5,902.7 L467.5,899.2 L468.5,904.0 L469.5,900.9 L470.5,905.4 L471.5,902.0 L472.5,907.3 L473.5,903.8 L474.5,907.9 L475.5,905.7 L476.5,909.1 L477.5,907.1 L478.5,911.7 L479.5,906.6 L480.5,913.1 L481.5,909.2 L482.5,913.5 L483.5,910.2 L484.5,915.1 L485.5,909.4 L486.5,915.9 L487.5,910.4 L488.5,916.8 L489.5,911.7 L490.5,917.6 L491.5,913.7 L492.5,916.6 L493.5,914.5 L494.5,918.1 L495.5,914.2 L496.5,920.6 L497.5,916.9 L498.5,921.8 L499.5,918.2 L500.5,923.3 L501.5,917.8 L502.5,922.4 L503.5,919.1 L504.5,923.1 L505.5,919.2 L506.5,924.4 L507.5,919.9 L508.5,924.9 L509.5,921.1 L510.5,924.7 L511.5,923.0 L512.5,925.7 L513.5,922.8 L514.5,928.0 L515.5,923.8 L516.5,928.8 L517.5,922.8 L518.5,926.9 L519.5,923.7 L520.5,929.0 L521.5,925.4 L522.5,931.2 L523.5,927.0 L524.5,931.1 L525.5,926.8 L526.5,930.4 L527.5,925.7 L528.5,930.7 L529.5,927.8 L530.5,930.4 L531.5,928.0 L532.5,932.1 L533.5,928.9 L534.5,934.5 L535.5,928.6 L536.5,933.9 L537.5,928.4 L538.5,933.5 L539.5,929.0 L540.5,934.4 L541.5,929.4 L542.5,934.3 L543.5,930.9 L544.5,933.4 L545.5,931.4 L546.5,935.1 L547.5,931.5 L548.5,936.9 L549.5,931.8 L550.5,936.8 L551.5,930.0 L552.5,937.9 L553.5,929.9 L554.5,936.5 L555.5,932.9 L556.5,935.5 L557.5,934.7 L558.5,936.7 L559.5,933.3 L560.5,939.0 L561.5,933.3 L562.5,939.2 L563.5,933.5 L564.5,938.9 L565.5,933.0 L566.5,937.8 L567.5,933.8 L568.5,937.9 L569.5,934.6 L570.5,939.4 L571.5,933.1 L572.5,938.7 L573.5,931.8 L574.5,939.6 L575.5,932.6 L576.5,939.7 L577.5,934.8 L578.5,939.4 L579.5,936.2 L580.5,938.8 L581.5,934.1 L582.5,937.6 L583.5,934.4 L584.5,938.3 L585.5,933.9 L586.5,937.8 L587.5,935.4 L588.5,938.4 L589.5,935.6 L590.5,938.9 L591.5,936.9 L592.5,940.1 L593.5,936.9 L594.5,940.2 L595.5,935.4 L596.5,938.2 L597.5,936.3 L598.5,939.1 L599.5,935.7 L600.5,939.6 L601.5,935.5 L602.5,938.3 L603.5,935.2 L604.5,937.2 L605.5,935.9 L606.5,938.1 L607.5,934.7 L608.5,939.4 L609.5,934.0 L610.5,939.7 L611.5,933.8 L612.5,940.7 L613.5,934.2 L614.5,939.5 L615.5,933.6 L616.5,937.7 L617.5,932.1 L618.5,937.8 L619.5,933.0 L620.5,938.2 L621.5,934.7 L622.5,937.0 L623.5,933.6 L624.5,936.9 L625.5,932.2 L626.5,936.6 L627.5,932.6 L628.5,935.3 L629.5,932.3 L630.5,935.1 L631.5,932.7 L632.5,935.5 L633.5,933.3 L634.5,937.7 L635.5,932.6 L636.5,938.9 L637.5,931.8 L638.5,935.6 L639.5,931.4 L640.5,933.8 L641.5,930.8 L642.5,934.9 L643.5,931.0 L644.5,936.2 L645.5,930.7 L646.5,935.0 L647.5,930.9 L648.5,934.5 L649.5,931.9 L650.5,934.4 L651.5,931.0 L652.5,933.4 L653.5,929.0 L654.5,933.7 L655.5,930.0 L656.5,932.8 L657.5,929.9 L658.5,931.0 L659.5,927.3 L660.5,930.7 L661.5,928.2 L662.5,931.4 L663.5,928.3 L664.5,931.5 L665.5,927.8 L666.5,930.1 L667.5,927.8 L668.5,929.2 L669.5,927.0 L670.5,928.9 L671.5,927.4 L672.5,929.1 L673.5,926.5 L674.5,928.9 L675.5,926.0 L676.5,929.7 L677.5,925.8 L678.5,929.2 L679.5,925.4 L680.5,929.1 L681.5,925.3 L682.5,928.4 L683.5,925.0 L684.5,926.5 L685.5,922.9 L686.5,927.2 L687.5,922.4 L688.5,927.7 L689.5,921.0 L690.5,927.0 L691.5,921.4 L692.5,925.6 L693.5,922.7 L694.5,926.1 L695.5,922.5 L696.5,925.9 L697.5,921.0 L698.5,924.5 L699.5,921.1 L700.5,923.4 L701.5,921.4 L702.5,924.5 L703.5,920.1 L704.5,924.6 L705.5,919.1 L706.5,924.4 L707.5,917.8 L708.5,924.2 L709.5,918.6 L710.5,922.2 L711.5,918.6 L712.5,921.5 L713.5,918.5 L714.5,921.7 L715.5,917.3 L716.5,920.9 L717.5,915.6 L718.5,919.6 L719.5,917.1 L720.5,919.8 L721.5,915.8 L722.5,919.3 L723.5,915.0 L724.5,918.8 L725.5,915.8 L726.5,919.9 L727.5,915.8 L728.5,919.0 L729.5,914.0 L730.5,917.3 L731.5,912.8 L732.5,918.0 L733.5,912.7 L734.5,916.4 L735.5,913.0 L736.5,915.5 L737.5,911.8 L738.5,916.5 L739.5,910.0 L740.5,915.5 L741.5,909.3 L742.5,915.5 L743.5,909.7 L744.5,915.2 L745.5,910.5 L746.5,914.2 L747.5,908.8 L748.5,913.2 L749.5,907.8 L750.5,910.9 L751.5,907.4 L752.5,910.8 L753.5,907.6 L754.5,911.6 L755.5,906.3 L756.5,912.3 L757.5,906.1 L758.5,911.4 L759.5,905.8 L760.5,910.9 L761.5,904.7 L762.5,910.9 L763.5,906.3 L764.5,909.2 L765.5,905.0 L766.5,908.1 L767.5,904.0 L768.5,908.5 L769.5,905.5 L770.5,908.4 L771.5,904.7 L772.5,907.2 L773.5,902.9 L774.5,907.7 L775.5,902.9 L776.5,907.3 L777.5,900.6 L778.5,906.5 L779.5,901.3 L780.5,905.1 L781.5,901.0 L782.5,903.8 L783.5,899.2 L784.5,904.3 L785.5,899.9 L786.5,903.0 L787.5,900.5 L788.5,901.6 L789.5,899.9 L790.5,903.8 L791.5,897.8 L792.5,903.6 L793.5,898.2 L794.5,903.2 L795.5,897.1 L796.5,902.0 L797.5,896.2 L798.5,901.3 L799.5,895.4 L800.5,900.7 L801.5,896.4 L802.5,900.8 L803.5,897.0 L804.5,900.0 L805.5,895.6 L806.5,898.4 L807.5,895.1 L808.5,897.2 L809.5,893.9 L810.5,897.2 L811.5,894.5 L812.5,897.4 L813.5,893.8 L814.5,897.3 L815.5,893.8 L816.5,896.8 L817.5,892.7 L818.5,894.3 L819.5,891.1 L820.5,895.1 L821.5,891.0 L822.5,895.7 L823.5,889.2 L824.5,895.4 L825.5,888.8 L826.5,895.3 L827.5,889.1 L828.5,894.7 L829.5,889.8 L830.5,893.0 L831.5,888.8 L832.5,892.2 L833.5,887.5 L834.5,893.0 L835.5,887.2 L836.5,893.1 L837.5,886.6 L838.5,889.8 L839.5,887.4 L840.5,890.5 L841.5,887.1 L842.5,892.7 L843.5,886.2 L844.5,889.5 L845.5,886.4 L846.5,889.2 L847.5,883.6 L848.5,889.0 L849.5,884.1 L850.5,888.8 L851.5,884.6 L852.5,888.4 L853.5,884.4 L854.5,888.3 L855.5,884.4 L856.5,886.5 L857.5,883.6 L858.5,885.5 L859.5,883.1 L860.5,886.2 L861.5,883.1 L862.5,885.7 L863.5,880.6 L864.5,884.8 L865.5,877.9 L866.5,884.7 L867.5,879.3 L868.5,883.5 L869.5,879.8 L870.5,882.4 L871.5,878.7 L872.5,884.1 L873.5,879.3 L874.5,884.1 L875.5,879.8 L876.5,884.4 L877.5,878.0 L878.5,883.6 L879.5,876.6 L880.5,881.1 L881.5,875.9 L882.5,879.3 L883.5,877.2 L884.5,879.9 L885.5,878.0 L886.5,879.1 L887.5,876.7 L888.5,878.6 L889.5,876.1 L890.5,879.5 L891.5,875.0 L892.5,879.2 L893.5,874.0 L894.5,878.5 L895.5,872.5 L896.5,878.2 L897.5,873.0 L898.5,877.5 L899.5,870.8 L900.5,877.2 L901.5,871.7 L902.5,875.6 L903.5,872.5 L904.5,874.6 L905.5,871.1 L906.5,874.6 L907.5,870.4 L908.5,874.7 L909.5,871.5 L910.5,874.2 L911.5,870.9 L912.5,872.5 L913.5,870.0 L914.5,873.7 L915.5,870.8 L916.5,874.0 L917.5,870.1 L918.5,873.3 L919.5,868.8 L920.5,872.6 L921.5,868.8 L922.5,872.1 L923.5,867.1 L924.5,871.7 L925.5,867.3 L926.5,871.2 L927.5,867.1 L928.5,871.2 L929.5,866.6 L930.5,870.7 L931.5,866.2 L932.5,869.2 L933.5,865.8 L934.5,868.5 L935.5,865.5 L936.5,868.0 L937.5,864.8 L938.5,868.0 L939.5,864.6 L940.5,867.2 L941.5,862.6 L942.5,867.8 L943.5,863.9 L944.5,867.4 L945.5,864.6 L946.5,866.7 L947.5,864.2 L948.5,866.5 L949.5,861.7 L950.5,865.4 L951.5,860.3 L952.5,865.7 L953.5,861.1 L954.5,866.0 L955.5,860.6 L956.5,866.0 L957.5,860.4 L958.5,865.8 L959.5,859.5 L960.5,864.1 L961.5,859.5 L962.5,862.9 L963.5,859.1 L964.5,862.5 L965.5,858.3 L966.5,861.4 L967.5,858.9 L968.5,863.1 L969.5,859.5 L970.5,863.3 L971.5,857.6 L972.5,861.3 L973.5,857.7 L974.5,861.7 L975.5,857.3 L976.5,862.9 L977.5,854.4 L978.5,861.6 L979.5,854.1 L980.5,860.2 L981.5,855.9 L982.5,860.3 L983.5,856.0 L984.5,859.0 L985.5,854.7 L986.5,859.4 L987.5,854.1 L988.5,860.9 L989.5,852.6 L990.5,860.2 L991.5,852.9 L992.5,857.4 L993.5,853.4 L994.5,856.5 L995.5,853.2 L996.5,856.4 L997.5,851.8 L998.5,856.7 L999.5,852.0 L1000.5,856.4 L1001.5,852.4 L1002.5,855.9 L1003.5,852.0 L1004.5,855.6 L1005.5,851.9 L1006.5,855.6 L1007.5,852.3 L1008.5,855.6 L1009.5,851.2 L1010.5,854.8 L1011.5,849.8 L1012.5,854.3 L1013.5,847.7 L1014.5,852.0 L1015.5,847.7 L1016.5,851.8 L1017.5,849.1 L1018.5,852.0 L1019.5,849.0 L1020.5,851.9 L1021.5,848.4 L1022.5,850.4 L1023.5,847.8 L1024.5,851.5 L1025.5,847.2 L1026.5,852.1 L1027.5,847.1 L1028.5,851.4 L1029.5,846.3 L1030.5,850.9 L1031.5,845.5 L1032.5,850.3 L1033.5,846.4 L1034.5,851.1 L1035.5,846.8 L1036.5,849.5 L1037.5,844.7 L1038.5,848.9 L1039.5,845.2 L1040.5,849.0 L1041.5,844.9 L1042.5,848.4 L1043.5,843.6 L1044.5,848.7 L1045.5,843.7 L1046.5,848.5 L1047.5,844.6 L1048.5,848.6 L1049.5,844.2 L1050.5,847.3 L1051.5,844.4 L1052.5,846.6 L1053.5,844.6 L1054.5,846.5 L1055.5,843.8 L1056.5,847.5 L1057.5,843.0 L1058.5,846.2 L1059.5,841.5 L1060.5,845.2 L1061.5,842.1 L1062.5,846.6 L1063.5,842.9 L1064.5,846.3 L1065.5,842.0 L1066.5,844.9 L1067.5,840.4 L1068.5,843.9 L1069.5,840.1 L1070.5,844.3 L1071.5,841.1 L1072.5,845.5 L1073.5,840.8 L1074.5,844.9 L1075.5,839.1 L1076.5,843.8 L1077.5,839.0 L1078.5,842.9 L1079.5,840.3 L1080.5,844.2 L1081.5,840.7 L1082.5,844.2 L1083.5,839.1 L1084.5,844.0 L1085.5,838.1 L1086.5,843.0 L1087.5,838.1 L1088.5,842.7 L1089.5,837.1 L1090.5,842.0 L1091.5,837.7 L1092.5,840.9 L1093.5,836.8 L1094.5,842.0 L1095.5,837.2 L1096.5,843.0 L1097.5,837.8 L1098.5,841.9 L1099.5,836.9 L1100.5,842.7 L1101.5,838.3 L1102.5,843.9 L1103.5,837.2 L1104.5,842.9 L1105.5,836.4 L1106.5,839.2 L1107.5,835.8 L1108.5,839.2 L1109.5,835.5 L1110.5,840.6 L1111.5,835.9 L1112.5,839.4 L1113.5,836.6 L1114.5,838.9 L1115.5,836.2 L1116.5,839.3 L1117.5,835.9 L1118.5,838.1 L1119.5,835.8 L1120.5,838.2 L1121.5,835.1 L1122.5,837.0 L1123.5,834.0 L1124.5,837.8 L1125.5,833.7 L1126.5,839.0 L1127.5,834.0 L1128.5,838.9 L1129.5,835.0 L1130.5,838.8 L1131.5,834.5 L1132.5,837.2 L1133.5,833.3 L1134.5,836.1 L1135.5,833.2 L1136.5,836.0 L1137.5,833.4 L1138.5,838.0 L1139.5,832.9 L1140.5,838.1 L1141.5,833.8 L1142.5,838.5 L1143.5,832.6 L1144.5,837.2 L1145.5,831.1 L1146.5,837.1 L1147.5,832.5 L1148.5,837.3 L1149.5,833.0 L1150.5,836.6 L1151.5,833.0 L1152.5,836.4 L1153.5,832.3 L1154.5,836.6 L1155.5,832.4 L1156.5,834.8 L1157.5,833.4 L1158.5,834.7 L1159.5,833.8 L1160.5,836.2 L1161.5,831.4 L1162.5,835.9 L1163.5,831.9 L1164.5,835.5 L1165.5,832.1 L1166.5,835.6 L1167.5,831.4 L1168.5,835.2 L1169.5,832.1 L1170.5,835.9 L1171.5,833.0 L1172.5,836.0 L1173.5,832.6 L1174.5,835.5 L1175.5,831.1 L1176.5,835.9 L1177.5,829.6 L1178.5,835.9 L1179.5,829.6 L1180.5,836.5 L1181.5,830.4 L1182.5,837.5 L1183.5,831.6 L1184.5,837.1 L1185.5,832.8 L1186.5,835.8 L1187.5,831.7 L1188.5,835.4 L1189.5,830.7 L1190.5,835.1 L1191.5,832.8 L1192.5,834.3 L1193.5,833.1 L1194.5,835.2 L1195.5,831.8 L1196.5,834.5 L1197.5,831.8 L1198.5,837.8 L1199.5,829.9 L1200.5,837.7 L1201.5,828.7 L1202.5,836.8 L1203.5,826.9 L1204.5,839.6 L1205.5,828.1 L1206.5,837.4 L1207.5,833.2 L1208.5,836.1 L1209.5,831.4 L1210.5,839.6 L1211.5,829.4 L1212.5,836.6 L1213.5,831.3 L1214.5,834.9 L1215.5,832.1 L1216.5,836.0 L1217.5,833.1 L1218.5,835.9 L1219.5,833.3 L1220.5,834.7 L1221.5,833.1 L1222.5,835.2 L1223.5,832.5 L1224.5,835.1 L1225.5,832.5 L1226.5,834.8 L1227.5,833.7 L1228.5,836.2 L1229.5,833.8 L1230.5,837.0 L1231.5,832.2 L1232.5,837.0 L1233.5,832.2 L1234.5,838.1 L1235.5,833.0 L1236.5,837.8 L1237.5,833.3 L1238.5,836.3 L1239.5,833.8 L1240.5,837.2 L1241.5,834.0 L1242.5,837.0 L1243.5,834.2 L1244.5,836.9 L1245.5,833.5 L1246.5,837.2 L1247.5,833.6 L1248.5,838.3 L1249.5,834.0 L1250.5,838.7 L1251.5,834.3 L1252.5,837.3 L1253.5,834.4 L1254.5,837.8 L1255.5,834.2 L1256.5,839.3 L1257.5,834.6 L1258.5,838.9 L1259.5,834.2 L1260.5,839.0 L1261.5,834.9 L1262.5,840.2 L1263.5,835.8 L1264.5,839.4 L1265.5,836.5 L1266.5,839.5 L1267.5,837.2 L1268.5,839.8 L1269.5,837.0 L1270.5,839.8 L1271.5,836.6 L1272.5,840.2 L1273.5,836.4 L1274.5,839.4 L1275.5,834.4 L1276.5,841.0 L1277.5,836.3 L1278.5,842.2 L1279.5,837.7 L1280.5,841.4 L1281.5,836.1 L1282.5,841.0 L1283.5,837.3 L1284.5,841.3 L1285.5,839.1 L1286.5,841.5 L1287.5,837.6 L1288.5,842.5 L1289.5,838.0 L1290.5,842.1 L1291.5,838.6 L1292.5,841.7 L1293.5,838.8 L1294.5,841.5 L1295.5,838.8 L1296.5,843.0 L1297.5,838.6 L1298.5,842.8 L1299.5,839.3 L1300.5,842.8 L1301.5,839.9 L1302.5,842.7 L1303.5,840.2 L1304.5,842.8 L1305.5,839.9 L1306.5,843.1 L1307.5,840.6 L1308.5,842.9 L1309.5,841.6 L1310.5,843.1 L1311.5,841.1 L1312.5,843.3 L1313.5,842.0 L1314.5,845.4 L1315.5,841.9 L1316.5,845.5 L1317.5,840.8 L1318.5,844.5 L1319.5,840.6 L1320.5,845.8 L1321.5,843.3 L1322.5,846.4 L1323.5,844.2 L1324.5,846.4 L1325.5,844.2 L1326.5,848.6 L1327.5,843.5 L1328.5,847.5 L1329.5,841.6 L1330.5,846.5 L1331.5,841.3 L1332.5,846.8 L1333.5,843.7 L1334.5,847.6 L1335.5,844.7 L1336.5,848.3 L1337.5,845.0 L1338.5,848.6 L1339.5,845.5 L1340.5,849.5 L1341.5,844.7 L1342.5,849.7 L1343.5,846.0 L1344.5,849.9 L1345.5,846.7 L1346.5,849.5 L1347.5,847.2 L1348.5,849.8 L1349.5,846.8 L1350.5,851.7 L1351.5,848.0 L1352.5,851.8 L1353.5,847.6 L1354.5,850.2 L1355.5,847.5 L1356.5,851.3 L1357.5,847.9 L1358.5,851.6 L1359.5,848.5 L1360.5,852.0 L1361.5,849.2 L1362.5,852.7 L1363.5,849.1 L1364.5,852.3 L1365.5,849.1 L1366.5,852.5 L1367.5,848.5 L1368.5,854.1 L1369.5,849.9 L1370.5,855.2 L1371.5,851.0 L1372.5,855.6 L1373.5,851.2 L1374.5,855.0 L1375.5,851.1 L1376.5,855.5 L1377.5,852.0 L1378.5,855.1 L1379.5,851.7 L1380.5,854.2 L1381.5,851.6 L1382.5,855.0 L1383.5,852.2 L1384.5,855.0 L1385.5,851.6 L1386.5,857.3 L1387.5,854.3 L1388.5,859.5 L1389.5,853.2 L1390.5,862.0 L1391.5,852.2 L1392.5,863.6 L1393.5,851.9 L1394.5,863.9 L1395.5,853.4 L1396.5,864.4 L1397.5,850.9 L1398.5,864.7 L1399.5,853.3 L1400.5,863.9 L1401.5,853.8 L1402.5,861.7 L1403.5,856.2 L1404.5,860.5 L1405.5,856.8 L1406.5,859.5 L1407.5,856.2 L1408.5,859.5 L1409.5,857.4 L1410.5,861.0 L1411.5,857.5 L1412.5,862.5 L1413.5,858.2 L1414.5,862.5 L1415.5,858.8 L1416.5,862.8 L1417.5,859.1 L1418.5,862.9 L1419.5,859.5 L1420.5,864.7 L1421.5,860.2 L1422.5,864.3 L1423.5,861.1 L1424.5,863.7 L1425.5,861.6 L1426.5,864.9 L1427.5,861.3 L1428.5,865.8 L1429.5,861.9 L1430.5,865.1 L1431.5,862.5 L1432.5,865.7 L1433.5,861.5 L1434.5,867.0 L1435.5,861.8 L1436.5,867.3 L1437.5,861.4 L1438.5,866.4 L1439.5,861.9 L1440.5,866.9 L1441.5,864.2 L1442.5,868.0 L1443.5,864.6 L1444.5,868.1 L1445.5,864.6 L1446.5,870.2 L1447.5,865.6 L1448.5,868.9 L1449.5,866.5 L1450.5,869.0 L1451.5,865.5 L1452.5,869.6 L1453.5,866.3 L1454.5,869.6 L1455.5,866.5 L1456.5,870.5 L1457.5,866.2 L1458.5,871.9 L1459.5,867.9 L1460.5,871.0 L1461.5,867.8 L1462.5,871.1 L1463.5,868.3 L1464.5,872.1 L1465.5,868.4 L1466.5,872.4 L1467.5,867.6 L1468.5,871.9 L1469.5,868.6 L1470.5,872.3 L1471.5,869.7 L1472.5,873.6 L1473.5,871.2 L1474.5,874.1 L1475.5,870.0 L1476.5,874.1 L1477.5,869.4 L1478.5,875.2 L1479.5,870.7 L1480.5,874.7 L1481.5,871.9 L1482.5,874.3 L1483.5,871.8 L1484.5,875.6 L1485.5,871.9 L1486.5,875.7 L1487.5,872.9 L1488.5,876.4 L1489.5,872.7 L1490.5,877.7 L1491.5,873.0 L1492.5,878.2 L1493.5,872.5 L1494.5,878.0 L1495.5,873.8 L1496.5,878.1 L1497.5,874.9 L1498.5,879.5 L1499.5,874.7 L1500.5,878.5 L1501.5,874.6 L1502.5,878.1 L1503.5,875.2 L1504.5,878.1 L1505.5,876.1 L1506.5,878.4 L1507.5,876.2 L1508.5,879.3 L1509.5,876.4 L1510.5,879.4 L1511.5,877.4 L1512.5,881.1 L1513.5,877.8 L1514.5,881.8 L1515.5,878.8 L1516.5,881.2 L1517.5,878.3 L1518.5,881.5 L1519.5,879.0 L1520.5,881.8 L1521.5,878.9 L1522.5,882.6 L1523.5,879.6 L1524.5,882.7 L1525.5,879.2 L1526.5,881.8 L1527.5,878.6 L1528.5,882.9 L1529.5,880.6 L1530.5,882.5 L1531.5,881.7 L1532.5,882.6 L1533.5,881.8 L1534.5,883.8 L1535.5,881.1 L1536.5,884.6 L1537.5,880.5 L1538.5,885.3 L1539.5,882.4 L1540.5,885.8 L1541.5,882.8 L1542.5,886.5 L1543.5,882.2 L1544.5,886.9 L1545.5,882.5 L1546.5,887.2 L1547.5,883.3 L1548.5,887.8 L1549.5,885.0 L1550.5,887.8 L1551.5,885.0 L1552.5,888.2 L1553.5,884.8 L1554.5,887.4 L1555.5,885.1 L1556.5,888.0 L1557.5,884.1 L1558.5,888.9 L1559.5,884.3 L1560.5,889.4 L1561.5,883.9 L1562.5,889.3 L1563.5,885.0 L1564.5,889.9 L1565.5,885.6 L1566.5,891.1 L1567.5,886.1 L1568.5,890.5 L1569.5,886.6 L1570.5,890.9 L1571.5,888.1 L1572.5,891.8 L1573.5,886.1 L1574.5,891.0 L1575.5,884.8 L1576.5,891.1 L1577.5,887.4 L1578.5,892.0 L1579.5,888.9 L1580.5,890.7 L1581.5,889.3 L1582.5,890.8 L1583.5,890.4 L1584.5,891.7 L1585.5,889.7 L1586.5,891.4 L1587.5,890.2 L1588.5,892.6 L1589.5,890.0 L1590.5,893.6 L1591.5,889.9 L1592.5,894.0 L1593.5,890.5 L1594.5,893.7 L1595.5,890.7 L1596.5,892.9 L1597.5,891.0 L1598.5,894.3 L1599.5,891.4 L1600.5,895.7 L1601.5,891.1 L1602.5,895.2 L1603.5,891.4 L1604.5,895.4 L1605.5,892.0 L1606.5,895.5 L1607.5,893.4 L1608.5,896.4 L1609.5,894.1 L1610.5,897.3 L1611.5,893.0 L1612.5,896.0 L1613.5,892.5 L1614.5,896.0 L1615.5,893.4 L1616.5,896.7 L1617.5,894.1 L1618.5,897.2 L1619.5,894.5 L1620.5,896.7 L1621.5,894.7 L1622.5,898.0 L1623.5,893.8 L1624.5,898.9 L1625.5,894.3 L1626.5,899.3 L1627.5,895.2 L1628.5,899.2 L1629.5,894.5 L1630.5,898.9 L1631.5,894.4 L1632.5,899.9 L1633.5,895.9 L1634.5,899.7 L1635.5,896.3 L1636.5,898.9 L1637.5,896.3 L1638.5,899.5 L1639.5,895.6 L1640.5,899.3 L1641.5,895.4 L1642.5,900.0 L1643.5,895.7 L1644.5,900.6 L1645.5,896.6 L1646.5,900.2 L1647.5,896.8 L1648.5,900.3 L1649.5,897.2 L1650.5,899.5 L1651.5,898.1 L1652.5,899.7 L1653.5,898.9 L1654.5,900.8 L1655.5,897.9 L1656.5,902.2 L1657.5,897.3 L1658.5,903.2 L1659.5,897.7 L1660.5,901.8 L1661.5,897.7 L1662.5,902.5 L1663.5,898.5 L1664.5,903.1 L1665.5,897.7 L1666.5,901.9 L1667.5,899.4 L1668.5,902.9 L1669.5,900.4 L1670.5,903.5 L1671.5,899.7 L1672.5,902.3 L1673.5,898.4 L1674.5,902.6 L1675.5,899.0 L1676.5,903.7 L1677.5,899.3 L1678.5,904.0 L1679.5,899.4 L1680.5,904.0 L1681.5,898.0 L1682.5,903.3 L1683.5,898.7 L1684.5,904.4 L1685.5,900.8 L1686.5,904.7 L1687.5,900.5 L1688.5,903.8 L1689.5,900.9 L1690.5,903.8 L1691.5,901.1 L1692.5,902.9 L1693.5,900.8 L1694.5,905.2 L1695.5,901.3 L1696.5,905.5 L1697.5,901.8 L1698.5,905.3 L1699.5,901.2 L1700.5,904.9 L1701.5,901.3 L1702.5,904.6 L1703.5,902.1 L1704.5,905.9 L1705.5,901.8 L1706.5,906.2 L1707.5,901.8 L1708.5,906.5 L1709.5,902.8 L1710.5,906.0 L1711.5,902.1 L1712.5,904.9 L1713.5,902.3 L1714.5,906.5 L1715.5,903.5 L1716.5,906.2 L1717.5,902.5 L1718.5,905.7 L1719.5,901.4 L1720.5,905.1 L1721.5,902.0 L1722.5,905.9 L1723.5,902.0 L1724.5,906.2 L1725.5,902.3 L1726.5,906.7 L1727.5,902.1 L1728.5,906.4 L1729.5,900.6 L1730.5,905.8 L1731.5,901.1 L1732.5,906.1 L1733.5,901.9 L1734.5,906.1 L1735.5,903.3 L1736.5,905.5 L1737.5,903.9 L1738.5,905.0 L1739.5,902.8 L1740.5,905.0 L1741.5,902.2 L1742.5,906.0 L1743.5,902.2 L1744.5,906.2 L1745.5,901.9 L1746.5,905.8 L1747.5,902.7 L1748.5,905.9 L1749.5,901.6 L1750.5,905.8 L1751.5,900.0 L1752.5,905.6 L1753.5,901.4 L1754.5,905.1 L1755.5,902.6 L1756.5,905.2 L1757.5,902.4 L1758.5,905.6 L1759.5,901.6 L1760.5,906.6 L1761.5,902.1 L1762.5,905.3 L1763.5,902.6 L1764.5,905.6 L1765.5,901.5 L1766.5,906.2 L1767.5,901.8 L1768.5,905.9 L1769.5,901.6 L1770.5,905.8 L1771.5,901.6 L1772.5,904.2 L1773.5,901.3 L1774.5,905.2 L1775.5,901.8 L1776.5,906.1 L1777.5,902.4 L1778.5,905.0 L1779.5,901.2 L1780.5,904.6 L1781.5,900.4 L1782.5,905.4 L1783.5,900.8 L1784.5,905.1 L1785.5,900.5 L1786.5,904.5 L1787.5,901.7 L1788.5,904.8 L1789.5,901.4 L1790.5,903.8 L1791.5,901.3 L1792.5,905.0 L1793.5,900.9 L1794.5,905.0 L1795.5,900.7 L1796.5,904.1 L1797.5,901.1 L1798.5,904.1 L1799.5,900.3 L1800.5,904.5 L1801.5,899.9 L1802.5,903.5 L1803.5,899.4 L1804.5,902.4 L1805.5,899.2 L1806.5,902.4 L1807.5,898.4 L1808.5,903.1 L1809.5,899.4 L1810.5,903.0 L1811.5,899.7 L1812.5,902.8 L1813.5,899.1 L1814.5,902.3 L1815.5,898.9 L1816.5,903.0 L1817.5,899.0 L1818.5,903.0 L1819.5,898.3 L1820.5,902.5 L1821.5,898.9 L1822.5,900.1 L1823.5,898.5 L1824.5,900.6 L1825.5,897.7 L1826.5,902.2 L1827.5,898.1 L1828.5,900.8 L1829.5,898.0 L1830.5,900.5 L1831.5,897.6 L1832.5,900.9 L1833.5,897.4 L1834.5,901.5 L1835.5,897.2 L1836.5,900.2 L1837.5,896.4" fill="none" stroke="#ff0000" stroke-width="11.0" stroke-linejoin="round" stroke-linecap="round" shape-rendering="crispEdges"/>
<g shape-rendering="crispEdges" fill="#000">
<rect x="311" y="110" width="8" height="33"/>
<rect x="311" y="172" width="8" height="59"/>
<rect x="311" y="259" width="8" height="59"/>
<rect x="311" y="346" width="8" height="59"/>
<rect x="311" y="433" width="8" height="59"/>
<rect x="311" y="520" width="8" height="59"/>
<rect x="311" y="608" width="8" height="59"/>
<rect x="311" y="695" width="8" height="59"/>
<rect x="311" y="782" width="8" height="59"/>
<rect x="311" y="869" width="8" height="59"/>
<rect x="311" y="956" width="8" height="59"/>
<rect x="311" y="1043" width="8" height="63"/>
<rect x="436" y="110" width="8" height="33"/>
<rect x="436" y="172" width="8" height="59"/>
<rect x="436" y="259" width="8" height="59"/>
<rect x="436" y="346" width="8" height="59"/>
<rect x="436" y="433" width="8" height="59"/>
<rect x="436" y="520" width="8" height="59"/>
<rect x="436" y="608" width="8" height="59"/>
<rect x="436" y="695" width="8" height="59"/>
<rect x="436" y="782" width="8" height="59"/>
<rect x="436" y="869" width="8" height="59"/>
<rect x="436" y="956" width="8" height="59"/>
<rect x="436" y="1043" width="8" height="63"/>
</g>
<polygon points="238.0,86.4 266.0,72.7 266.0,81.9 312.0,81.9 312.0,90.9 266.0,90.9 266.0,100.2" fill="#000"/>
<polygon points="323.8,86.4 351.8,72.7 351.8,81.9 403.0,81.9 403.0,72.7 431.0,86.4 403.0,100.2 403.0,90.9 351.8,90.9 351.8,100.2" fill="#000"/>
<polygon points="446.0,81.9 609.0,81.9 609.0,72.7 637.0,86.4 609.0,100.2 609.0,90.9 446.0,90.9" fill="#000"/>
<polygon points="790.3,206.0 768.8,214.1 764.6,202.8 738.0,231.5 776.9,235.6 772.7,224.4 794.1,216.4" fill="#000"/>
<polygon points="794.1,456.9 772.8,449.1 776.9,437.8 738.0,442.2 764.8,470.7 769.0,459.4 790.3,467.3" fill="#000"/>
<polygon points="796.1,786.7 774.7,794.7 770.5,783.5 743.8,812.1 782.7,816.3 778.5,805.0 799.9,797.1" fill="#000"/>
<polygon points="800.0,949.1 778.4,940.7 782.8,929.5 743.8,933.2 770.1,962.2 774.4,951.0 796.0,959.3" fill="#000"/>
<text transform="translate(282.5,64) scale(1.13,1)" font-size="48" text-anchor="middle" letter-spacing="-2.4" fill="#000" style="font-family:'Liberation Serif','Times New Roman',Times,serif;font-weight:bold">I</text>
<text transform="translate(377.4,64) scale(1.13,1)" font-size="48" text-anchor="middle" letter-spacing="-2.4" fill="#000" style="font-family:'Liberation Serif','Times New Roman',Times,serif;font-weight:bold">II</text>
<text transform="translate(515.4,64) scale(1.13,1)" font-size="48" text-anchor="middle" letter-spacing="-2.4" fill="#000" style="font-family:'Liberation Serif','Times New Roman',Times,serif;font-weight:bold">III</text>
<text x="822.5" y="219" font-size="48" text-anchor="middle" fill="#000" style="font-family:'Liberation Serif','Times New Roman',Times,serif;font-weight:bold" >1</text>
<text x="822" y="482.8" font-size="48" text-anchor="middle" fill="#000" style="font-family:'Liberation Serif','Times New Roman',Times,serif;font-weight:bold" >2</text>
<text x="827.5" y="801" font-size="48" text-anchor="middle" fill="#000" style="font-family:'Liberation Serif','Times New Roman',Times,serif;font-weight:bold" >1</text>
<text x="827" y="975.2" font-size="48" text-anchor="middle" fill="#000" style="font-family:'Liberation Serif','Times New Roman',Times,serif;font-weight:bold" >2</text>
<text x="312.6" y="1174" font-size="48" text-anchor="middle" fill="#000" style="font-family:'Liberation Serif','Times New Roman',Times,serif;font-weight:bold" >0</text>
<text x="473.9" y="1174" font-size="48" text-anchor="middle" fill="#000" style="font-family:'Liberation Serif','Times New Roman',Times,serif;font-weight:bold" >0.2</text>
<text x="635.2" y="1174" font-size="48" text-anchor="middle" fill="#000" style="font-family:'Liberation Serif','Times New Roman',Times,serif;font-weight:bold" >0.4</text>
<text x="796.5" y="1174" font-size="48" text-anchor="middle" fill="#000" style="font-family:'Liberation Serif','Times New Roman',Times,serif;font-weight:bold" >0.6</text>
<text x="957.5" y="1174" font-size="48" text-anchor="middle" fill="#000" style="font-family:'Liberation Serif','Times New Roman',Times,serif;font-weight:bold" >0.8</text>
<text x="1116.9" y="1174" font-size="48" text-anchor="middle" fill="#000" style="font-family:'Liberation Serif','Times New Roman',Times,serif;font-weight:bold" >1</text>
<text x="1277.4" y="1174" font-size="48" text-anchor="middle" fill="#000" style="font-family:'Liberation Serif','Times New Roman',Times,serif;font-weight:bold" >1.2</text>
<text x="1437.2" y="1174" font-size="48" text-anchor="middle" fill="#000" style="font-family:'Liberation Serif','Times New Roman',Times,serif;font-weight:bold" >1.4</text>
<text x="1597.5" y="1174" font-size="48" text-anchor="middle" fill="#000" style="font-family:'Liberation Serif','Times New Roman',Times,serif;font-weight:bold" >1.6</text>
<text x="1760.0" y="1174" font-size="48" text-anchor="middle" fill="#000" style="font-family:'Liberation Serif','Times New Roman',Times,serif;font-weight:bold" >1.8</text>
<text x="216" y="126.0" font-size="50" text-anchor="end" fill="#262626" style="font-family:'Liberation Serif','Times New Roman',Times,serif;font-weight:bold" >60.4</text>
<text x="216" y="241.2" font-size="50" text-anchor="end" fill="#262626" style="font-family:'Liberation Serif','Times New Roman',Times,serif;font-weight:bold" >60.2</text>
<text x="216" y="356.5" font-size="50" text-anchor="end" fill="#262626" style="font-family:'Liberation Serif','Times New Roman',Times,serif;font-weight:bold" >60</text>
<text x="216" y="471.8" font-size="50" text-anchor="end" fill="#262626" style="font-family:'Liberation Serif','Times New Roman',Times,serif;font-weight:bold" >59.8</text>
<text x="216" y="587.0" font-size="50" text-anchor="end" fill="#262626" style="font-family:'Liberation Serif','Times New Roman',Times,serif;font-weight:bold" >59.6</text>
<text x="226.3" y="665.2" font-size="51.5" text-anchor="end" fill="#262626" style="font-family:'Liberation Serif','Times New Roman',Times,serif;font-weight:bold" >1</text>
<text x="230.3" y="780.7" font-size="51.5" text-anchor="end" fill="#262626" style="font-family:'Liberation Serif','Times New Roman',Times,serif;font-weight:bold" >0.5</text>
<text x="227.3" y="896.2" font-size="51.5" text-anchor="end" fill="#262626" style="font-family:'Liberation Serif','Times New Roman',Times,serif;font-weight:bold" >0</text>
<text x="227.3" y="1011.7" font-size="51.5" text-anchor="end" fill="#262626" style="font-family:'Liberation Serif','Times New Roman',Times,serif;font-weight:bold" ><tspan font-weight="normal">−</tspan>0.5</text>
<text x="223.3" y="1127.2" font-size="51.5" text-anchor="end" fill="#262626" style="font-family:'Liberation Serif','Times New Roman',Times,serif;font-weight:bold" ><tspan font-weight="normal">−</tspan>1</text>
<text x="1034" y="1241.2" font-size="72" text-anchor="middle" fill="#000" style="font-family:'Liberation Serif','Times New Roman',Times,serif;font-weight:bold" >Time (s)</text>
<text transform="translate(80.7,483.3) rotate(-90) scale(1.35,1)" font-size="72" fill="#000" style="font-family:'Liberation Serif','Times New Roman',Times,serif;font-weight:bold;font-style:italic">f</text>
<text transform="translate(80.7,453) rotate(-90)" font-size="72" fill="#000" style="font-family:'Liberation Serif','Times New Roman',Times,serif;font-weight:bold"><tspan font-style="italic" font-size="49" dy="11.4">VSG</tspan><tspan dx="-2.1" dy="-11.4"> (Hz)</tspan></text>
<text transform="translate(81,985) rotate(-90)" font-size="72" fill="#000" style="font-family:'Liberation Serif','Times New Roman',Times,serif;font-weight:bold"><tspan font-style="italic">i</tspan><tspan font-size="49" dy="11.4">1</tspan><tspan font-style="italic" font-size="49">q</tspan><tspan dy="-11.4"> (pu)</tspan></text>
</svg>
</body></html>
